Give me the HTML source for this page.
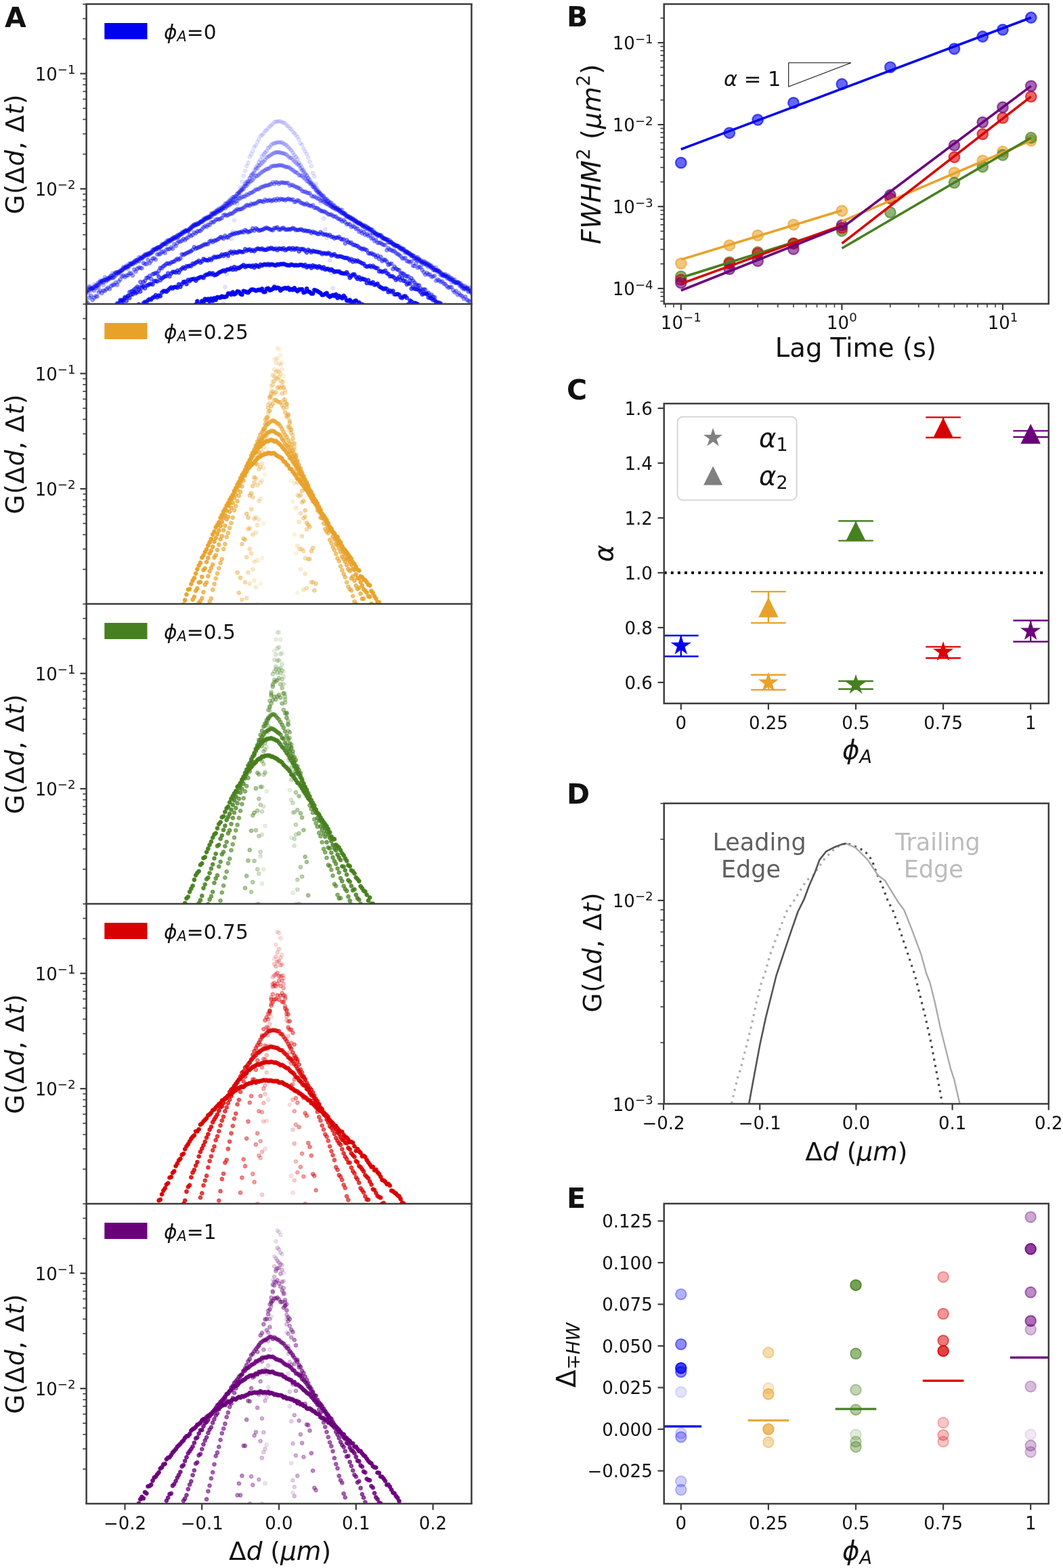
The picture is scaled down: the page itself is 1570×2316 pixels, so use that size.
<!DOCTYPE html>
<html><head><meta charset="utf-8"><title>Figure</title>
<style>html,body{margin:0;padding:0;background:#fff;} svg{display:block;} text{font-family:'DejaVu Sans', 'Liberation Sans', sans-serif;fill:#111;}</style>
</head><body>
<svg width="1570" height="2316" viewBox="0 0 1570 2316">
<rect width="1570" height="2316" fill="#fff"/>
<line x1="122.3" y1="397.9" x2="127.6" y2="397.9" stroke="#3c3c3c" stroke-width="1.6"/>
<line x1="122.3" y1="368" x2="127.6" y2="368" stroke="#3c3c3c" stroke-width="1.6"/>
<line x1="122.3" y1="346.7" x2="127.6" y2="346.7" stroke="#3c3c3c" stroke-width="1.6"/>
<line x1="122.3" y1="330.2" x2="127.6" y2="330.2" stroke="#3c3c3c" stroke-width="1.6"/>
<line x1="122.3" y1="316.7" x2="127.6" y2="316.7" stroke="#3c3c3c" stroke-width="1.6"/>
<line x1="122.3" y1="305.3" x2="127.6" y2="305.3" stroke="#3c3c3c" stroke-width="1.6"/>
<line x1="122.3" y1="295.4" x2="127.6" y2="295.4" stroke="#3c3c3c" stroke-width="1.6"/>
<line x1="122.3" y1="286.7" x2="127.6" y2="286.7" stroke="#3c3c3c" stroke-width="1.6"/>
<line x1="122.3" y1="227.7" x2="127.6" y2="227.7" stroke="#3c3c3c" stroke-width="1.6"/>
<line x1="122.3" y1="197.7" x2="127.6" y2="197.7" stroke="#3c3c3c" stroke-width="1.6"/>
<line x1="122.3" y1="176.4" x2="127.6" y2="176.4" stroke="#3c3c3c" stroke-width="1.6"/>
<line x1="122.3" y1="160" x2="127.6" y2="160" stroke="#3c3c3c" stroke-width="1.6"/>
<line x1="122.3" y1="146.5" x2="127.6" y2="146.5" stroke="#3c3c3c" stroke-width="1.6"/>
<line x1="122.3" y1="135.1" x2="127.6" y2="135.1" stroke="#3c3c3c" stroke-width="1.6"/>
<line x1="122.3" y1="125.2" x2="127.6" y2="125.2" stroke="#3c3c3c" stroke-width="1.6"/>
<line x1="122.3" y1="116.5" x2="127.6" y2="116.5" stroke="#3c3c3c" stroke-width="1.6"/>
<line x1="122.3" y1="57.4" x2="127.6" y2="57.4" stroke="#3c3c3c" stroke-width="1.6"/>
<line x1="122.3" y1="27.5" x2="127.6" y2="27.5" stroke="#3c3c3c" stroke-width="1.6"/>
<line x1="122.3" y1="6.2" x2="127.6" y2="6.2" stroke="#3c3c3c" stroke-width="1.6"/>
<line x1="118.4" y1="108.7" x2="127.6" y2="108.7" stroke="#3c3c3c" stroke-width="2.2"/>
<line x1="118.4" y1="278.9" x2="127.6" y2="278.9" stroke="#3c3c3c" stroke-width="2.2"/>
<text x="111.6" y="119" font-size="26" text-anchor="end">10<tspan font-size="18.2" dy="-9.9">−1</tspan></text>
<text x="111.6" y="289.2" font-size="26" text-anchor="end">10<tspan font-size="18.2" dy="-9.9">−2</tspan></text>
<rect x="154.3" y="34" width="63.2" height="24" fill="#0000f0"/>
<text x="242" y="58.1" font-size="29.7"><tspan font-style="oblique">ϕ</tspan><tspan font-style="oblique" font-size="20.8" dy="3.3">A</tspan><tspan dy="-3.3">=0</tspan></text>
<text transform="translate(35,227.5) rotate(-90)" x="0" y="0" font-size="37" letter-spacing="0.9" text-anchor="middle">G(Δ<tspan font-style="oblique">d</tspan>, Δ<tspan font-style="oblique">t</tspan>)</text>
<line x1="122.3" y1="840.9" x2="127.6" y2="840.9" stroke="#3c3c3c" stroke-width="1.6"/>
<line x1="122.3" y1="811" x2="127.6" y2="811" stroke="#3c3c3c" stroke-width="1.6"/>
<line x1="122.3" y1="789.7" x2="127.6" y2="789.7" stroke="#3c3c3c" stroke-width="1.6"/>
<line x1="122.3" y1="773.2" x2="127.6" y2="773.2" stroke="#3c3c3c" stroke-width="1.6"/>
<line x1="122.3" y1="759.7" x2="127.6" y2="759.7" stroke="#3c3c3c" stroke-width="1.6"/>
<line x1="122.3" y1="748.3" x2="127.6" y2="748.3" stroke="#3c3c3c" stroke-width="1.6"/>
<line x1="122.3" y1="738.4" x2="127.6" y2="738.4" stroke="#3c3c3c" stroke-width="1.6"/>
<line x1="122.3" y1="729.7" x2="127.6" y2="729.7" stroke="#3c3c3c" stroke-width="1.6"/>
<line x1="122.3" y1="670.7" x2="127.6" y2="670.7" stroke="#3c3c3c" stroke-width="1.6"/>
<line x1="122.3" y1="640.7" x2="127.6" y2="640.7" stroke="#3c3c3c" stroke-width="1.6"/>
<line x1="122.3" y1="619.4" x2="127.6" y2="619.4" stroke="#3c3c3c" stroke-width="1.6"/>
<line x1="122.3" y1="603" x2="127.6" y2="603" stroke="#3c3c3c" stroke-width="1.6"/>
<line x1="122.3" y1="589.5" x2="127.6" y2="589.5" stroke="#3c3c3c" stroke-width="1.6"/>
<line x1="122.3" y1="578.1" x2="127.6" y2="578.1" stroke="#3c3c3c" stroke-width="1.6"/>
<line x1="122.3" y1="568.2" x2="127.6" y2="568.2" stroke="#3c3c3c" stroke-width="1.6"/>
<line x1="122.3" y1="559.5" x2="127.6" y2="559.5" stroke="#3c3c3c" stroke-width="1.6"/>
<line x1="122.3" y1="500.4" x2="127.6" y2="500.4" stroke="#3c3c3c" stroke-width="1.6"/>
<line x1="122.3" y1="470.5" x2="127.6" y2="470.5" stroke="#3c3c3c" stroke-width="1.6"/>
<line x1="122.3" y1="449.2" x2="127.6" y2="449.2" stroke="#3c3c3c" stroke-width="1.6"/>
<line x1="118.4" y1="551.7" x2="127.6" y2="551.7" stroke="#3c3c3c" stroke-width="2.2"/>
<line x1="118.4" y1="722" x2="127.6" y2="722" stroke="#3c3c3c" stroke-width="2.2"/>
<text x="111.6" y="562" font-size="26" text-anchor="end">10<tspan font-size="18.2" dy="-9.9">−1</tspan></text>
<text x="111.6" y="732.2" font-size="26" text-anchor="end">10<tspan font-size="18.2" dy="-9.9">−2</tspan></text>
<rect x="154.3" y="477" width="63.2" height="24" fill="#e8a22a"/>
<text x="242" y="501.1" font-size="29.7"><tspan font-style="oblique">ϕ</tspan><tspan font-style="oblique" font-size="20.8" dy="3.3">A</tspan><tspan dy="-3.3">=0.25</tspan></text>
<text transform="translate(35,670.5) rotate(-90)" x="0" y="0" font-size="37" letter-spacing="0.9" text-anchor="middle">G(Δ<tspan font-style="oblique">d</tspan>, Δ<tspan font-style="oblique">t</tspan>)</text>
<line x1="122.3" y1="1283.9" x2="127.6" y2="1283.9" stroke="#3c3c3c" stroke-width="1.6"/>
<line x1="122.3" y1="1254" x2="127.6" y2="1254" stroke="#3c3c3c" stroke-width="1.6"/>
<line x1="122.3" y1="1232.7" x2="127.6" y2="1232.7" stroke="#3c3c3c" stroke-width="1.6"/>
<line x1="122.3" y1="1216.2" x2="127.6" y2="1216.2" stroke="#3c3c3c" stroke-width="1.6"/>
<line x1="122.3" y1="1202.7" x2="127.6" y2="1202.7" stroke="#3c3c3c" stroke-width="1.6"/>
<line x1="122.3" y1="1191.3" x2="127.6" y2="1191.3" stroke="#3c3c3c" stroke-width="1.6"/>
<line x1="122.3" y1="1181.4" x2="127.6" y2="1181.4" stroke="#3c3c3c" stroke-width="1.6"/>
<line x1="122.3" y1="1172.7" x2="127.6" y2="1172.7" stroke="#3c3c3c" stroke-width="1.6"/>
<line x1="122.3" y1="1113.7" x2="127.6" y2="1113.7" stroke="#3c3c3c" stroke-width="1.6"/>
<line x1="122.3" y1="1083.7" x2="127.6" y2="1083.7" stroke="#3c3c3c" stroke-width="1.6"/>
<line x1="122.3" y1="1062.4" x2="127.6" y2="1062.4" stroke="#3c3c3c" stroke-width="1.6"/>
<line x1="122.3" y1="1046" x2="127.6" y2="1046" stroke="#3c3c3c" stroke-width="1.6"/>
<line x1="122.3" y1="1032.5" x2="127.6" y2="1032.5" stroke="#3c3c3c" stroke-width="1.6"/>
<line x1="122.3" y1="1021.1" x2="127.6" y2="1021.1" stroke="#3c3c3c" stroke-width="1.6"/>
<line x1="122.3" y1="1011.2" x2="127.6" y2="1011.2" stroke="#3c3c3c" stroke-width="1.6"/>
<line x1="122.3" y1="1002.5" x2="127.6" y2="1002.5" stroke="#3c3c3c" stroke-width="1.6"/>
<line x1="122.3" y1="943.4" x2="127.6" y2="943.4" stroke="#3c3c3c" stroke-width="1.6"/>
<line x1="122.3" y1="913.5" x2="127.6" y2="913.5" stroke="#3c3c3c" stroke-width="1.6"/>
<line x1="122.3" y1="892.2" x2="127.6" y2="892.2" stroke="#3c3c3c" stroke-width="1.6"/>
<line x1="118.4" y1="994.7" x2="127.6" y2="994.7" stroke="#3c3c3c" stroke-width="2.2"/>
<line x1="118.4" y1="1165" x2="127.6" y2="1165" stroke="#3c3c3c" stroke-width="2.2"/>
<text x="111.6" y="1005" font-size="26" text-anchor="end">10<tspan font-size="18.2" dy="-9.9">−1</tspan></text>
<text x="111.6" y="1175.2" font-size="26" text-anchor="end">10<tspan font-size="18.2" dy="-9.9">−2</tspan></text>
<rect x="154.3" y="920" width="63.2" height="24" fill="#47801f"/>
<text x="242" y="944.1" font-size="29.7"><tspan font-style="oblique">ϕ</tspan><tspan font-style="oblique" font-size="20.8" dy="3.3">A</tspan><tspan dy="-3.3">=0.5</tspan></text>
<text transform="translate(35,1113.5) rotate(-90)" x="0" y="0" font-size="37" letter-spacing="0.9" text-anchor="middle">G(Δ<tspan font-style="oblique">d</tspan>, Δ<tspan font-style="oblique">t</tspan>)</text>
<line x1="122.3" y1="1726.9" x2="127.6" y2="1726.9" stroke="#3c3c3c" stroke-width="1.6"/>
<line x1="122.3" y1="1697" x2="127.6" y2="1697" stroke="#3c3c3c" stroke-width="1.6"/>
<line x1="122.3" y1="1675.7" x2="127.6" y2="1675.7" stroke="#3c3c3c" stroke-width="1.6"/>
<line x1="122.3" y1="1659.2" x2="127.6" y2="1659.2" stroke="#3c3c3c" stroke-width="1.6"/>
<line x1="122.3" y1="1645.7" x2="127.6" y2="1645.7" stroke="#3c3c3c" stroke-width="1.6"/>
<line x1="122.3" y1="1634.3" x2="127.6" y2="1634.3" stroke="#3c3c3c" stroke-width="1.6"/>
<line x1="122.3" y1="1624.4" x2="127.6" y2="1624.4" stroke="#3c3c3c" stroke-width="1.6"/>
<line x1="122.3" y1="1615.7" x2="127.6" y2="1615.7" stroke="#3c3c3c" stroke-width="1.6"/>
<line x1="122.3" y1="1556.7" x2="127.6" y2="1556.7" stroke="#3c3c3c" stroke-width="1.6"/>
<line x1="122.3" y1="1526.7" x2="127.6" y2="1526.7" stroke="#3c3c3c" stroke-width="1.6"/>
<line x1="122.3" y1="1505.4" x2="127.6" y2="1505.4" stroke="#3c3c3c" stroke-width="1.6"/>
<line x1="122.3" y1="1489" x2="127.6" y2="1489" stroke="#3c3c3c" stroke-width="1.6"/>
<line x1="122.3" y1="1475.5" x2="127.6" y2="1475.5" stroke="#3c3c3c" stroke-width="1.6"/>
<line x1="122.3" y1="1464.1" x2="127.6" y2="1464.1" stroke="#3c3c3c" stroke-width="1.6"/>
<line x1="122.3" y1="1454.2" x2="127.6" y2="1454.2" stroke="#3c3c3c" stroke-width="1.6"/>
<line x1="122.3" y1="1445.5" x2="127.6" y2="1445.5" stroke="#3c3c3c" stroke-width="1.6"/>
<line x1="122.3" y1="1386.4" x2="127.6" y2="1386.4" stroke="#3c3c3c" stroke-width="1.6"/>
<line x1="122.3" y1="1356.5" x2="127.6" y2="1356.5" stroke="#3c3c3c" stroke-width="1.6"/>
<line x1="122.3" y1="1335.2" x2="127.6" y2="1335.2" stroke="#3c3c3c" stroke-width="1.6"/>
<line x1="118.4" y1="1437.7" x2="127.6" y2="1437.7" stroke="#3c3c3c" stroke-width="2.2"/>
<line x1="118.4" y1="1608" x2="127.6" y2="1608" stroke="#3c3c3c" stroke-width="2.2"/>
<text x="111.6" y="1448" font-size="26" text-anchor="end">10<tspan font-size="18.2" dy="-9.9">−1</tspan></text>
<text x="111.6" y="1618.2" font-size="26" text-anchor="end">10<tspan font-size="18.2" dy="-9.9">−2</tspan></text>
<rect x="154.3" y="1363" width="63.2" height="24" fill="#d90000"/>
<text x="242" y="1387.1" font-size="29.7"><tspan font-style="oblique">ϕ</tspan><tspan font-style="oblique" font-size="20.8" dy="3.3">A</tspan><tspan dy="-3.3">=0.75</tspan></text>
<text transform="translate(35,1556.5) rotate(-90)" x="0" y="0" font-size="37" letter-spacing="0.9" text-anchor="middle">G(Δ<tspan font-style="oblique">d</tspan>, Δ<tspan font-style="oblique">t</tspan>)</text>
<line x1="122.3" y1="2169.9" x2="127.6" y2="2169.9" stroke="#3c3c3c" stroke-width="1.6"/>
<line x1="122.3" y1="2140" x2="127.6" y2="2140" stroke="#3c3c3c" stroke-width="1.6"/>
<line x1="122.3" y1="2118.7" x2="127.6" y2="2118.7" stroke="#3c3c3c" stroke-width="1.6"/>
<line x1="122.3" y1="2102.2" x2="127.6" y2="2102.2" stroke="#3c3c3c" stroke-width="1.6"/>
<line x1="122.3" y1="2088.7" x2="127.6" y2="2088.7" stroke="#3c3c3c" stroke-width="1.6"/>
<line x1="122.3" y1="2077.3" x2="127.6" y2="2077.3" stroke="#3c3c3c" stroke-width="1.6"/>
<line x1="122.3" y1="2067.4" x2="127.6" y2="2067.4" stroke="#3c3c3c" stroke-width="1.6"/>
<line x1="122.3" y1="2058.7" x2="127.6" y2="2058.7" stroke="#3c3c3c" stroke-width="1.6"/>
<line x1="122.3" y1="1999.7" x2="127.6" y2="1999.7" stroke="#3c3c3c" stroke-width="1.6"/>
<line x1="122.3" y1="1969.7" x2="127.6" y2="1969.7" stroke="#3c3c3c" stroke-width="1.6"/>
<line x1="122.3" y1="1948.4" x2="127.6" y2="1948.4" stroke="#3c3c3c" stroke-width="1.6"/>
<line x1="122.3" y1="1932" x2="127.6" y2="1932" stroke="#3c3c3c" stroke-width="1.6"/>
<line x1="122.3" y1="1918.5" x2="127.6" y2="1918.5" stroke="#3c3c3c" stroke-width="1.6"/>
<line x1="122.3" y1="1907.1" x2="127.6" y2="1907.1" stroke="#3c3c3c" stroke-width="1.6"/>
<line x1="122.3" y1="1897.2" x2="127.6" y2="1897.2" stroke="#3c3c3c" stroke-width="1.6"/>
<line x1="122.3" y1="1888.5" x2="127.6" y2="1888.5" stroke="#3c3c3c" stroke-width="1.6"/>
<line x1="122.3" y1="1829.4" x2="127.6" y2="1829.4" stroke="#3c3c3c" stroke-width="1.6"/>
<line x1="122.3" y1="1799.5" x2="127.6" y2="1799.5" stroke="#3c3c3c" stroke-width="1.6"/>
<line x1="122.3" y1="1778.2" x2="127.6" y2="1778.2" stroke="#3c3c3c" stroke-width="1.6"/>
<line x1="118.4" y1="1880.7" x2="127.6" y2="1880.7" stroke="#3c3c3c" stroke-width="2.2"/>
<line x1="118.4" y1="2050.9" x2="127.6" y2="2050.9" stroke="#3c3c3c" stroke-width="2.2"/>
<text x="111.6" y="1891" font-size="26" text-anchor="end">10<tspan font-size="18.2" dy="-9.9">−1</tspan></text>
<text x="111.6" y="2061.2" font-size="26" text-anchor="end">10<tspan font-size="18.2" dy="-9.9">−2</tspan></text>
<line x1="184.5" y1="2221" x2="184.5" y2="2230.2" stroke="#3c3c3c" stroke-width="2.2"/>
<line x1="298.2" y1="2221" x2="298.2" y2="2230.2" stroke="#3c3c3c" stroke-width="2.2"/>
<line x1="412" y1="2221" x2="412" y2="2230.2" stroke="#3c3c3c" stroke-width="2.2"/>
<line x1="525.8" y1="2221" x2="525.8" y2="2230.2" stroke="#3c3c3c" stroke-width="2.2"/>
<line x1="639.5" y1="2221" x2="639.5" y2="2230.2" stroke="#3c3c3c" stroke-width="2.2"/>
<rect x="154.3" y="1806" width="63.2" height="24" fill="#6b007b"/>
<text x="242" y="1830.1" font-size="29.7"><tspan font-style="oblique">ϕ</tspan><tspan font-style="oblique" font-size="20.8" dy="3.3">A</tspan><tspan dy="-3.3">=1</tspan></text>
<text transform="translate(35,1999.5) rotate(-90)" x="0" y="0" font-size="37" letter-spacing="0.9" text-anchor="middle">G(Δ<tspan font-style="oblique">d</tspan>, Δ<tspan font-style="oblique">t</tspan>)</text>
<text x="184.5" y="2258.6" font-size="26" text-anchor="middle">−0.2</text>
<text x="298.2" y="2258.6" font-size="26" text-anchor="middle">−0.1</text>
<text x="412" y="2258.6" font-size="26" text-anchor="middle">0.0</text>
<text x="525.8" y="2258.6" font-size="26" text-anchor="middle">0.1</text>
<text x="639.5" y="2258.6" font-size="26" text-anchor="middle">0.2</text>
<text x="413.5" y="2303.5" font-size="37.5" text-anchor="middle">Δ<tspan font-style="oblique">d</tspan> (<tspan font-style="oblique">μm</tspan>)</text>
<defs><filter id="soft" x="-2%" y="-2%" width="104%" height="104%"><feGaussianBlur stdDeviation="0.55"/></filter></defs>
<clipPath id="cA0"><rect x="127.6" y="6.0" width="568.8" height="443"/></clipPath>
<defs><marker id="m0_0" markerUnits="userSpaceOnUse" markerWidth="8" markerHeight="8" refX="4" refY="4" overflow="visible"><circle cx="4" cy="4" r="2.75" fill="#0000f0" fill-opacity="0.100" stroke="#0000f0" stroke-opacity="0.085" stroke-width="1.3"/></marker><marker id="m0_1" markerUnits="userSpaceOnUse" markerWidth="8" markerHeight="8" refX="4" refY="4" overflow="visible"><circle cx="4" cy="4" r="2.75" fill="#0000f0" fill-opacity="0.150" stroke="#0000f0" stroke-opacity="0.128" stroke-width="1.3"/></marker><marker id="m0_2" markerUnits="userSpaceOnUse" markerWidth="8" markerHeight="8" refX="4" refY="4" overflow="visible"><circle cx="4" cy="4" r="2.75" fill="#0000f0" fill-opacity="0.200" stroke="#0000f0" stroke-opacity="0.170" stroke-width="1.3"/></marker><marker id="m0_3" markerUnits="userSpaceOnUse" markerWidth="8" markerHeight="8" refX="4" refY="4" overflow="visible"><circle cx="4" cy="4" r="2.75" fill="#0000f0" fill-opacity="0.250" stroke="#0000f0" stroke-opacity="0.212" stroke-width="1.3"/></marker><marker id="m0_4" markerUnits="userSpaceOnUse" markerWidth="8" markerHeight="8" refX="4" refY="4" overflow="visible"><circle cx="4" cy="4" r="2.75" fill="#0000f0" fill-opacity="0.300" stroke="#0000f0" stroke-opacity="0.255" stroke-width="1.3"/></marker><marker id="m0_5" markerUnits="userSpaceOnUse" markerWidth="8" markerHeight="8" refX="4" refY="4" overflow="visible"><circle cx="4" cy="4" r="2.75" fill="#0000f0" fill-opacity="0.360" stroke="#0000f0" stroke-opacity="0.306" stroke-width="1.3"/></marker><marker id="m0_6" markerUnits="userSpaceOnUse" markerWidth="8" markerHeight="8" refX="4" refY="4" overflow="visible"><circle cx="4" cy="4" r="2.75" fill="#0000f0" fill-opacity="0.450" stroke="#0000f0" stroke-opacity="0.383" stroke-width="1.3"/></marker><marker id="m0_7" markerUnits="userSpaceOnUse" markerWidth="8" markerHeight="8" refX="4" refY="4" overflow="visible"><circle cx="4" cy="4" r="2.75" fill="#0000f0" fill-opacity="0.580" stroke="#0000f0" stroke-opacity="0.493" stroke-width="1.3"/></marker><marker id="m0_8" markerUnits="userSpaceOnUse" markerWidth="8" markerHeight="8" refX="4" refY="4" overflow="visible"><circle cx="4" cy="4" r="2.75" fill="#0000f0" fill-opacity="0.720" stroke="#0000f0" stroke-opacity="0.612" stroke-width="1.3"/></marker><marker id="m0_9" markerUnits="userSpaceOnUse" markerWidth="8" markerHeight="8" refX="4" refY="4" overflow="visible"><circle cx="4" cy="4" r="2.75" fill="#0000f0" fill-opacity="0.900" stroke="#0000f0" stroke-opacity="0.765" stroke-width="1.3"/></marker></defs>
<g clip-path="url(#cA0)"><g filter="url(#soft)">
<polyline points="330.1,448.7 332.4,423.8 334.7,404.8 336.9,380.3 339.2,370.6 341.5,352.9 343.8,342.1 346.0,325.4 348.3,309.6 350.6,301.4 352.9,287.6 355.1,276.7 357.4,268.4 359.7,259.7 362.0,252.4 364.2,245.2 366.5,240.5 368.8,231.7 371.1,227.7 373.3,223.2 375.6,217.1 377.9,215.1 380.2,210.0 382.4,205.7 384.7,200.7 387.0,199.5 389.3,197.1 391.5,193.2 393.8,192.2 396.1,189.4 398.4,186.8 400.6,185.1 402.9,183.3 405.2,180.2 407.5,179.8 409.7,179.6 412.0,179.2 414.3,178.9 416.6,180.7 418.8,181.4 421.1,181.7 423.4,185.4 425.7,186.3 427.9,189.7 430.2,190.8 432.5,194.7 434.8,196.7 437.0,199.3 439.3,202.4 441.6,206.1 443.9,211.4 446.1,213.8 448.4,219.3 450.7,223.7 453.0,227.4 455.2,232.7 457.5,239.0 459.8,245.4 462.1,255.6 464.3,260.6 466.6,271.7 468.9,278.0 471.2,287.0 473.4,299.9 475.7,312.7 478.0,322.8 480.3,338.9 482.5,351.6 484.8,372.4 487.1,384.6 489.4,403.7 491.6,425.4" fill="none" stroke="none" marker-start="url(#m0_0)" marker-mid="url(#m0_0)" marker-end="url(#m0_0)"/>
<polyline points="127.6,430.6 129.9,428.2 132.2,424.8 134.4,426.5 136.7,424.4 139.0,420.2 141.3,423.1 143.6,418.5 145.8,419.2 148.1,416.3 150.4,416.9 152.7,415.7 154.9,413.1 157.2,410.8 159.5,413.5 161.8,411.1 164.0,409.9 166.3,406.8 168.6,406.6 170.9,406.8 173.1,401.7 175.4,401.5 177.7,398.5 180.0,398.9 182.2,395.9 184.5,394.7 186.8,394.4 189.1,397.5 191.3,390.5 193.6,389.0 195.9,390.2 198.2,388.5 200.4,388.1 202.7,385.3 205.0,383.0 207.3,381.2 209.5,378.7 211.8,378.7 214.1,377.9 216.4,376.4 218.6,376.3 220.9,373.8 223.2,372.7 225.5,372.5 227.7,368.3 230.0,367.0 232.3,366.4 234.6,366.3 236.8,364.4 239.1,360.5 241.4,360.4 243.7,359.8 245.9,358.4 248.2,356.3 250.5,355.0 252.8,355.5 255.0,353.2 257.3,352.5 259.6,350.2 261.9,350.8 264.1,348.6 266.4,345.6 268.7,343.3 271.0,342.2 273.2,342.5 275.5,341.9 277.8,340.4 280.1,338.5 282.3,338.9 284.6,334.2 286.9,331.7 289.2,331.9 291.4,330.8 293.7,329.6 296.0,327.3 298.3,326.5 300.5,326.6 302.8,324.9 305.1,322.0 307.4,322.4 309.6,320.3 311.9,318.8 314.2,317.8 316.5,316.6 318.7,315.8 321.0,312.7 323.3,312.9 325.6,310.5 327.8,308.7 330.1,306.5 332.4,304.5 334.7,304.7 336.9,301.8 339.2,299.9 341.5,299.3 343.8,295.4 346.0,294.6 348.3,292.9 350.6,290.8 352.9,287.4 355.1,284.5 357.4,280.4 359.7,277.9 362.0,273.6 364.2,270.8 366.5,267.7 368.8,263.0 371.1,259.8 373.3,256.1 375.6,251.7 377.9,247.4 380.2,244.1 382.4,239.4 384.7,236.2 387.0,231.1 389.3,228.1 391.5,225.5 393.8,223.2 396.1,218.8 398.4,217.0 400.6,214.1 402.9,212.3 405.2,211.4 407.5,211.3 409.7,209.9 412.0,210.3 414.3,210.3 416.6,210.4 418.8,212.1 421.1,213.2 423.4,214.8 425.7,217.2 427.9,219.6 430.2,222.1 432.5,225.4 434.8,228.9 437.0,231.9 439.3,235.0 441.6,240.3 443.9,244.0 446.1,248.0 448.4,251.3 450.7,255.7 453.0,259.1 455.2,263.4 457.5,268.5 459.8,270.6 462.1,275.4 464.3,278.3 466.6,281.0 468.9,284.2 471.2,286.1 473.4,289.4 475.7,292.2 478.0,295.2 480.3,296.9 482.5,299.2 484.8,300.1 487.1,301.5 489.4,303.9 491.6,306.7 493.9,307.5 496.2,307.5 498.5,307.8 500.7,312.2 503.0,314.2 505.3,313.8 507.6,315.2 509.8,316.4 512.1,320.4 514.4,321.1 516.7,320.7 518.9,323.9 521.2,324.0 523.5,328.2 525.8,326.8 528.0,329.1 530.3,329.6 532.6,330.4 534.9,332.8 537.1,332.5 539.4,335.4 541.7,336.3 544.0,337.3 546.2,339.7 548.5,338.2 550.8,342.0 553.1,343.6 555.3,345.1 557.6,345.7 559.9,347.6 562.2,347.2 564.4,349.2 566.7,352.0 569.0,353.0 571.3,353.5 573.5,354.2 575.8,357.8 578.1,358.4 580.4,361.0 582.6,364.6 584.9,363.0 587.2,364.1 589.5,365.3 591.7,367.1 594.0,368.8 596.3,369.9 598.6,370.7 600.8,373.2 603.1,373.0 605.4,375.1 607.7,377.8 609.9,377.4 612.2,382.0 614.5,380.9 616.8,384.7 619.0,383.8 621.3,383.8 623.6,386.8 625.9,389.9 628.1,389.8 630.4,392.0 632.7,392.6 635.0,391.9 637.2,392.0 639.5,396.5 641.8,399.3 644.1,398.7 646.3,401.7 648.6,401.4 650.9,402.4 653.2,404.3 655.4,405.2 657.7,406.7 660.0,410.0 662.3,409.8 664.5,412.5 666.8,411.1 669.1,414.3 671.4,414.9 673.6,416.9 675.9,416.1 678.2,418.7 680.5,421.8 682.7,424.3 685.0,425.6 687.3,422.3 689.6,424.4 691.8,431.2 694.1,429.8 696.4,429.4" fill="none" stroke="none" marker-start="url(#m0_1)" marker-mid="url(#m0_1)" marker-end="url(#m0_1)"/>
<polyline points="127.6,430.5 129.9,428.9 132.2,428.2 134.4,426.4 136.7,426.7 139.0,424.0 141.3,421.7 143.6,425.0 145.8,423.8 148.1,414.3 150.4,415.6 152.7,421.0 154.9,413.1 157.2,413.2 159.5,411.1 161.8,408.9 164.0,407.3 166.3,403.5 168.6,405.1 170.9,406.9 173.1,404.1 175.4,403.0 177.7,400.5 180.0,399.0 182.2,396.7 184.5,395.0 186.8,391.8 189.1,392.9 191.3,393.1 193.6,389.4 195.9,390.0 198.2,386.0 200.4,384.8 202.7,384.4 205.0,385.9 207.3,380.6 209.5,380.5 211.8,379.6 214.1,377.6 216.4,376.2 218.6,375.5 220.9,376.0 223.2,371.7 225.5,370.7 227.7,368.2 230.0,368.2 232.3,365.7 234.6,365.2 236.8,364.4 239.1,363.1 241.4,360.8 243.7,360.5 245.9,358.4 248.2,357.6 250.5,355.7 252.8,353.2 255.0,353.7 257.3,350.9 259.6,351.9 261.9,347.3 264.1,346.7 266.4,345.9 268.7,345.1 271.0,343.1 273.2,341.7 275.5,340.2 277.8,340.2 280.1,338.1 282.3,337.0 284.6,334.8 286.9,334.3 289.2,332.6 291.4,331.7 293.7,330.2 296.0,327.8 298.3,327.3 300.5,323.3 302.8,324.0 305.1,322.4 307.4,320.9 309.6,319.8 311.9,318.1 314.2,315.9 316.5,316.4 318.7,313.1 321.0,311.3 323.3,310.3 325.6,309.7 327.8,307.5 330.1,306.5 332.4,303.4 334.7,301.0 336.9,299.8 339.2,297.5 341.5,296.5 343.8,294.6 346.0,291.7 348.3,289.8 350.6,286.3 352.9,283.8 355.1,282.0 357.4,278.7 359.7,275.5 362.0,271.3 364.2,268.5 366.5,268.2 368.8,263.1 371.1,258.9 373.3,257.4 375.6,255.2 377.9,249.8 380.2,248.4 382.4,245.0 384.7,243.4 387.0,240.7 389.3,238.6 391.5,236.0 393.8,232.7 396.1,231.3 398.4,230.2 400.6,228.2 402.9,227.2 405.2,225.4 407.5,225.3 409.7,224.8 412.0,225.0 414.3,225.5 416.6,226.3 418.8,226.4 421.1,227.6 423.4,228.6 425.7,231.1 427.9,232.9 430.2,233.3 432.5,235.9 434.8,238.3 437.0,240.3 439.3,242.6 441.6,244.4 443.9,248.8 446.1,251.6 448.4,253.8 450.7,257.4 453.0,259.8 455.2,263.0 457.5,265.4 459.8,269.6 462.1,272.5 464.3,274.5 466.6,277.8 468.9,280.9 471.2,284.3 473.4,285.6 475.7,289.2 478.0,291.2 480.3,293.9 482.5,296.1 484.8,297.0 487.1,299.0 489.4,303.7 491.6,303.6 493.9,304.9 496.2,307.6 498.5,308.0 500.7,310.3 503.0,311.6 505.3,314.0 507.6,315.2 509.8,314.8 512.1,319.3 514.4,319.6 516.7,320.4 518.9,322.2 521.2,324.3 523.5,326.8 525.8,326.5 528.0,327.9 530.3,330.8 532.6,330.9 534.9,333.7 537.1,334.3 539.4,338.6 541.7,337.9 544.0,336.8 546.2,341.0 548.5,340.9 550.8,339.7 553.1,342.9 555.3,345.5 557.6,347.9 559.9,348.5 562.2,349.2 564.4,351.5 566.7,353.0 569.0,352.5 571.3,354.8 573.5,354.3 575.8,357.1 578.1,359.0 580.4,359.9 582.6,361.2 584.9,362.8 587.2,363.5 589.5,363.3 591.7,367.1 594.0,367.3 596.3,368.5 598.6,371.0 600.8,372.7 603.1,374.6 605.4,375.2 607.7,378.6 609.9,378.5 612.2,382.2 614.5,383.6 616.8,384.5 619.0,385.1 621.3,384.8 623.6,386.3 625.9,387.5 628.1,389.6 630.4,392.1 632.7,394.7 635.0,393.5 637.2,392.8 639.5,395.4 641.8,395.8 644.1,394.8 646.3,398.9 648.6,400.2 650.9,404.9 653.2,404.3 655.4,406.9 657.7,407.6 660.0,411.1 662.3,408.8 664.5,412.8 666.8,417.1 669.1,415.4 671.4,417.7 673.6,417.3 675.9,417.1 678.2,421.7 680.5,418.3 682.7,425.8 685.0,421.9 687.3,426.0 689.6,425.7 691.8,429.4 694.1,428.6 696.4,430.6" fill="none" stroke="none" marker-start="url(#m0_2)" marker-mid="url(#m0_2)" marker-end="url(#m0_2)"/>
<polyline points="127.6,430.8 129.9,427.4 132.2,422.8 134.4,429.2 136.7,425.8 139.0,424.2 141.3,422.0 143.6,422.4 145.8,417.2 148.1,416.8 150.4,415.1 152.7,417.5 154.9,409.6 157.2,415.8 159.5,412.0 161.8,410.1 164.0,407.3 166.3,409.9 168.6,405.0 170.9,403.0 173.1,404.2 175.4,403.8 177.7,400.6 180.0,399.9 182.2,398.2 184.5,396.3 186.8,393.3 189.1,393.7 191.3,389.1 193.6,389.2 195.9,387.9 198.2,387.4 200.4,384.2 202.7,384.3 205.0,380.0 207.3,381.9 209.5,381.9 211.8,380.0 214.1,376.7 216.4,377.6 218.6,376.8 220.9,374.4 223.2,374.2 225.5,372.3 227.7,369.3 230.0,367.5 232.3,366.3 234.6,365.1 236.8,364.2 239.1,363.0 241.4,361.1 243.7,358.6 245.9,356.2 248.2,354.5 250.5,356.9 252.8,355.1 255.0,352.6 257.3,352.4 259.6,350.9 261.9,348.1 264.1,346.9 266.4,346.7 268.7,343.4 271.0,344.5 273.2,342.3 275.5,340.4 277.8,341.2 280.1,337.4 282.3,336.7 284.6,333.1 286.9,331.5 289.2,331.5 291.4,329.3 293.7,330.4 296.0,328.2 298.3,326.6 300.5,325.1 302.8,323.1 305.1,321.2 307.4,319.9 309.6,319.8 311.9,320.5 314.2,314.7 316.5,313.7 318.7,311.7 321.0,310.1 323.3,308.2 325.6,307.8 327.8,305.9 330.1,304.3 332.4,300.7 334.7,300.6 336.9,298.2 339.2,295.8 341.5,293.7 343.8,291.5 346.0,290.4 348.3,289.9 350.6,286.1 352.9,284.6 355.1,281.7 357.4,280.8 359.7,279.2 362.0,275.0 364.2,274.3 366.5,271.5 368.8,268.7 371.1,267.4 373.3,265.6 375.6,262.6 377.9,260.2 380.2,259.7 382.4,257.8 384.7,255.9 387.0,254.1 389.3,252.4 391.5,251.3 393.8,249.5 396.1,249.4 398.4,248.0 400.6,245.9 402.9,245.1 405.2,245.2 407.5,244.7 409.7,244.8 412.0,244.1 414.3,244.1 416.6,244.4 418.8,245.1 421.1,246.3 423.4,246.6 425.7,246.9 427.9,248.1 430.2,250.1 432.5,251.0 434.8,253.3 437.0,254.5 439.3,255.6 441.6,258.8 443.9,259.1 446.1,259.7 448.4,262.4 450.7,264.1 453.0,267.3 455.2,268.3 457.5,270.9 459.8,272.4 462.1,275.8 464.3,276.6 466.6,280.7 468.9,283.1 471.2,283.3 473.4,286.7 475.7,288.3 478.0,289.5 480.3,293.2 482.5,294.1 484.8,297.1 487.1,299.6 489.4,299.5 491.6,302.2 493.9,303.7 496.2,306.7 498.5,307.3 500.7,309.8 503.0,309.8 505.3,310.0 507.6,315.5 509.8,316.7 512.1,317.8 514.4,319.3 516.7,321.7 518.9,321.3 521.2,323.6 523.5,325.5 525.8,327.3 528.0,328.9 530.3,330.4 532.6,330.6 534.9,332.9 537.1,333.0 539.4,333.3 541.7,337.2 544.0,337.5 546.2,338.5 548.5,339.5 550.8,345.0 553.1,344.3 555.3,345.4 557.6,348.3 559.9,347.1 562.2,348.2 564.4,349.6 566.7,351.4 569.0,353.2 571.3,354.0 573.5,357.1 575.8,354.9 578.1,358.0 580.4,360.1 582.6,360.6 584.9,362.1 587.2,363.5 589.5,365.8 591.7,368.1 594.0,368.8 596.3,369.7 598.6,373.4 600.8,371.6 603.1,374.1 605.4,376.2 607.7,376.3 609.9,378.6 612.2,378.4 614.5,380.3 616.8,382.0 619.0,382.7 621.3,387.6 623.6,388.4 625.9,385.4 628.1,386.9 630.4,390.5 632.7,389.5 635.0,391.5 637.2,394.9 639.5,398.5 641.8,398.6 644.1,399.0 646.3,399.2 648.6,401.9 650.9,406.4 653.2,407.0 655.4,406.3 657.7,407.4 660.0,408.7 662.3,407.0 664.5,409.7 666.8,410.9 669.1,415.3 671.4,412.8 673.6,418.1 675.9,417.4 678.2,419.6 680.5,420.0 682.7,422.7 685.0,425.2 687.3,424.3 689.6,425.1 691.8,430.8 694.1,429.8 696.4,432.5" fill="none" stroke="none" marker-start="url(#m0_3)" marker-mid="url(#m0_3)" marker-end="url(#m0_3)"/>
<polyline points="127.6,430.7 129.9,432.4 132.2,425.0 134.4,426.3 136.7,425.6 139.0,429.3 141.3,425.8 143.6,421.0 145.8,420.8 148.1,418.4 150.4,415.0 152.7,413.8 154.9,413.7 157.2,413.9 159.5,411.6 161.8,412.1 164.0,409.6 166.3,410.7 168.6,409.7 170.9,402.4 173.1,402.4 175.4,401.4 177.7,402.1 180.0,398.7 182.2,394.7 184.5,396.1 186.8,395.2 189.1,394.0 191.3,391.9 193.6,390.4 195.9,390.0 198.2,386.9 200.4,387.6 202.7,383.9 205.0,385.7 207.3,382.1 209.5,381.6 211.8,378.8 214.1,375.7 216.4,375.7 218.6,374.1 220.9,374.4 223.2,372.8 225.5,368.8 227.7,368.7 230.0,368.9 232.3,366.0 234.6,368.5 236.8,365.7 239.1,361.8 241.4,360.8 243.7,359.8 245.9,360.9 248.2,356.5 250.5,355.0 252.8,353.8 255.0,351.4 257.3,350.3 259.6,349.7 261.9,350.6 264.1,349.4 266.4,346.1 268.7,345.6 271.0,342.4 273.2,340.7 275.5,339.9 277.8,341.3 280.1,338.8 282.3,335.3 284.6,334.4 286.9,332.7 289.2,331.8 291.4,331.3 293.7,330.3 296.0,327.5 298.3,327.9 300.5,325.0 302.8,322.4 305.1,323.1 307.4,322.2 309.6,321.2 311.9,315.7 314.2,316.4 316.5,315.2 318.7,314.6 321.0,313.1 323.3,311.7 325.6,311.3 327.8,309.5 330.1,307.1 332.4,307.6 334.7,305.2 336.9,303.5 339.2,302.5 341.5,301.1 343.8,298.6 346.0,299.8 348.3,297.6 350.6,296.5 352.9,293.1 355.1,292.9 357.4,291.2 359.7,290.3 362.0,290.1 364.2,287.3 366.5,287.8 368.8,285.3 371.1,284.9 373.3,283.6 375.6,282.2 377.9,279.8 380.2,279.8 382.4,279.2 384.7,277.0 387.0,276.0 389.3,275.6 391.5,274.3 393.8,273.9 396.1,273.7 398.4,272.5 400.6,271.8 402.9,269.3 405.2,271.8 407.5,269.1 409.7,269.6 412.0,271.7 414.3,269.8 416.6,269.3 418.8,270.0 421.1,270.4 423.4,270.1 425.7,270.5 427.9,274.3 430.2,273.2 432.5,273.4 434.8,275.2 437.0,275.9 439.3,277.0 441.6,278.0 443.9,279.2 446.1,282.1 448.4,283.2 450.7,283.0 453.0,284.7 455.2,285.1 457.5,285.5 459.8,288.8 462.1,290.6 464.3,290.1 466.6,291.7 468.9,293.2 471.2,293.7 473.4,296.4 475.7,296.2 478.0,297.9 480.3,299.8 482.5,301.3 484.8,302.1 487.1,303.9 489.4,305.4 491.6,306.7 493.9,307.6 496.2,309.7 498.5,309.7 500.7,311.0 503.0,312.4 505.3,315.2 507.6,314.5 509.8,317.9 512.1,319.5 514.4,320.4 516.7,322.1 518.9,323.4 521.2,323.4 523.5,324.4 525.8,326.3 528.0,329.0 530.3,328.6 532.6,330.5 534.9,332.3 537.1,334.9 539.4,334.7 541.7,334.8 544.0,336.5 546.2,338.6 548.5,339.7 550.8,343.6 553.1,343.1 555.3,346.0 557.6,346.0 559.9,347.6 562.2,347.2 564.4,351.1 566.7,352.0 569.0,353.2 571.3,354.0 573.5,357.5 575.8,358.5 578.1,357.4 580.4,360.5 582.6,362.4 584.9,363.2 587.2,363.2 589.5,365.7 591.7,365.7 594.0,367.0 596.3,367.6 598.6,371.8 600.8,371.6 603.1,373.4 605.4,374.2 607.7,377.3 609.9,377.0 612.2,381.2 614.5,382.1 616.8,380.0 619.0,383.3 621.3,385.9 623.6,387.3 625.9,389.9 628.1,388.7 630.4,388.7 632.7,391.0 635.0,393.3 637.2,395.6 639.5,395.3 641.8,399.1 644.1,399.2 646.3,400.5 648.6,400.7 650.9,402.8 653.2,405.8 655.4,407.9 657.7,405.0 660.0,408.2 662.3,411.7 664.5,412.4 666.8,413.3 669.1,413.0 671.4,416.5 673.6,417.7 675.9,417.3 678.2,417.6 680.5,423.0 682.7,421.7 685.0,427.3 687.3,427.0 689.6,426.6 691.8,426.8 694.1,425.2 696.4,432.9" fill="none" stroke="none" marker-start="url(#m0_4)" marker-mid="url(#m0_4)" marker-end="url(#m0_4)"/>
<polyline points="127.6,445.0 129.9,448.3 132.2,439.7 134.4,436.8 136.7,443.1 139.0,439.8 141.3,437.6 143.6,437.9 145.8,431.8 148.1,429.6 150.4,433.0 152.7,429.3 154.9,429.6 157.2,427.0 159.5,425.0 161.8,426.9 164.0,422.6 166.3,421.0 168.6,420.7 170.9,417.5 173.1,420.8 175.4,415.7 177.7,412.7 180.0,408.4 182.2,407.2 184.5,409.3 186.8,406.9 189.1,406.6 191.3,403.7 193.6,403.7 195.9,406.8 198.2,398.1 200.4,401.2 202.7,397.0 205.0,395.4 207.3,395.5 209.5,396.3 211.8,388.6 214.1,389.9 216.4,390.0 218.6,384.0 220.9,388.7 223.2,385.5 225.5,381.9 227.7,381.5 230.0,383.4 232.3,375.8 234.6,375.7 236.8,375.1 239.1,372.5 241.4,371.5 243.7,373.6 245.9,368.4 248.2,368.1 250.5,367.8 252.8,365.5 255.0,367.4 257.3,361.0 259.6,363.3 261.9,359.0 264.1,356.6 266.4,356.9 268.7,355.4 271.0,352.8 273.2,354.5 275.5,352.0 277.8,350.6 280.1,347.1 282.3,348.6 284.6,346.9 286.9,343.6 289.2,344.6 291.4,341.8 293.7,341.2 296.0,341.1 298.3,338.6 300.5,335.8 302.8,333.9 305.1,335.1 307.4,331.8 309.6,332.4 311.9,328.4 314.2,328.5 316.5,327.3 318.7,324.7 321.0,323.6 323.3,324.3 325.6,322.9 327.8,322.1 330.1,318.0 332.4,317.1 334.7,318.6 336.9,317.8 339.2,315.7 341.5,315.9 343.8,314.7 346.0,312.7 348.3,311.3 350.6,308.9 352.9,309.6 355.1,308.9 357.4,308.4 359.7,306.8 362.0,305.2 364.2,303.0 366.5,303.1 368.8,303.8 371.1,301.1 373.3,301.8 375.6,300.7 377.9,300.6 380.2,298.8 382.4,297.0 384.7,297.1 387.0,297.4 389.3,298.3 391.5,295.0 393.8,296.7 396.1,296.3 398.4,295.3 400.6,297.0 402.9,296.0 405.2,294.5 407.5,296.3 409.7,293.5 412.0,295.6 414.3,293.8 416.6,294.5 418.8,294.5 421.1,295.9 423.4,294.6 425.7,293.4 427.9,294.7 430.2,295.1 432.5,294.7 434.8,298.3 437.0,297.8 439.3,295.8 441.6,296.7 443.9,299.3 446.1,300.1 448.4,301.3 450.7,302.1 453.0,300.6 455.2,303.1 457.5,303.6 459.8,304.5 462.1,303.1 464.3,306.9 466.6,306.9 468.9,307.6 471.2,309.5 473.4,311.1 475.7,311.8 478.0,312.2 480.3,313.1 482.5,314.6 484.8,316.6 487.1,316.9 489.4,316.9 491.6,319.0 493.9,319.9 496.2,319.8 498.5,322.7 500.7,323.4 503.0,324.5 505.3,327.1 507.6,325.3 509.8,328.1 512.1,331.2 514.4,330.8 516.7,331.3 518.9,335.2 521.2,333.9 523.5,335.1 525.8,338.0 528.0,337.6 530.3,342.3 532.6,340.8 534.9,344.5 537.1,343.0 539.4,346.9 541.7,345.5 544.0,348.7 546.2,347.4 548.5,352.3 550.8,351.7 553.1,356.0 555.3,354.4 557.6,358.7 559.9,358.5 562.2,358.7 564.4,360.7 566.7,361.7 569.0,362.1 571.3,369.5 573.5,366.6 575.8,368.7 578.1,369.5 580.4,370.9 582.6,370.8 584.9,373.8 587.2,375.2 589.5,376.6 591.7,378.4 594.0,381.6 596.3,381.7 598.6,381.0 600.8,385.6 603.1,386.1 605.4,387.3 607.7,386.2 609.9,392.4 612.2,392.9 614.5,389.0 616.8,395.4 619.0,394.1 621.3,395.0 623.6,398.8 625.9,402.1 628.1,405.6 630.4,403.2 632.7,405.5 635.0,405.4 637.2,408.7 639.5,408.6 641.8,407.6 644.1,414.7 646.3,413.1 648.6,414.2 650.9,416.4 653.2,415.7 655.4,418.8 657.7,419.8 660.0,422.8 662.3,424.9 664.5,424.1 666.8,424.2 669.1,428.7 671.4,431.7 673.6,429.9 675.9,435.3 678.2,433.2 680.5,436.3 682.7,437.5 685.0,441.2 687.3,438.5 689.6,442.8 691.8,444.3 694.1,445.3 696.4,451.8" fill="none" stroke="none" marker-start="url(#m0_5)" marker-mid="url(#m0_5)" marker-end="url(#m0_5)"/>
<polyline points="173.1,449.8 175.4,447.9 177.7,443.0 180.0,445.0 182.2,442.6 184.5,439.0 186.8,439.8 189.1,437.3 191.3,431.4 193.6,430.7 195.9,429.7 198.2,427.5 200.4,426.0 202.7,423.3 205.0,424.6 207.3,416.5 209.5,421.7 211.8,416.5 214.1,414.8 216.4,410.3 218.6,410.3 220.9,407.5 223.2,412.0 225.5,405.0 227.7,404.3 230.0,403.1 232.3,404.1 234.6,399.9 236.8,395.7 239.1,396.0 241.4,392.9 243.7,391.8 245.9,389.5 248.2,388.9 250.5,389.8 252.8,387.7 255.0,386.9 257.3,386.2 259.6,384.1 261.9,382.2 264.1,383.5 266.4,381.5 268.7,375.6 271.0,376.5 273.2,375.2 275.5,373.8 277.8,373.1 280.1,371.6 282.3,371.0 284.6,368.8 286.9,364.8 289.2,367.3 291.4,366.2 293.7,365.1 296.0,364.6 298.3,363.0 300.5,362.1 302.8,360.6 305.1,360.8 307.4,360.3 309.6,356.7 311.9,355.6 314.2,357.6 316.5,355.2 318.7,355.3 321.0,353.9 323.3,352.5 325.6,350.1 327.8,350.7 330.1,352.4 332.4,348.2 334.7,350.4 336.9,350.7 339.2,347.6 341.5,346.8 343.8,345.2 346.0,345.8 348.3,344.0 350.6,344.7 352.9,343.3 355.1,343.4 357.4,342.0 359.7,343.0 362.0,339.8 364.2,341.3 366.5,343.0 368.8,341.9 371.1,340.9 373.3,337.5 375.6,340.6 377.9,337.3 380.2,338.8 382.4,340.7 384.7,339.9 387.0,339.6 389.3,338.4 391.5,337.3 393.8,336.3 396.1,337.6 398.4,338.3 400.6,339.6 402.9,340.0 405.2,336.9 407.5,336.9 409.7,335.8 412.0,339.1 414.3,338.9 416.6,337.1 418.8,336.7 421.1,338.9 423.4,339.4 425.7,338.4 427.9,339.0 430.2,338.2 432.5,336.8 434.8,337.9 437.0,339.8 439.3,339.6 441.6,339.6 443.9,338.7 446.1,339.4 448.4,340.9 450.7,340.3 453.0,341.3 455.2,341.3 457.5,341.4 459.8,344.0 462.1,342.2 464.3,343.4 466.6,343.9 468.9,345.6 471.2,345.7 473.4,342.8 475.7,344.9 478.0,346.6 480.3,346.1 482.5,346.7 484.8,348.0 487.1,346.9 489.4,349.8 491.6,349.8 493.9,352.0 496.2,350.8 498.5,351.2 500.7,350.0 503.0,352.7 505.3,353.9 507.6,353.4 509.8,359.6 512.1,354.7 514.4,357.4 516.7,358.9 518.9,358.4 521.2,361.7 523.5,361.6 525.8,362.9 528.0,363.3 530.3,365.5 532.6,366.8 534.9,368.0 537.1,367.3 539.4,368.7 541.7,369.6 544.0,373.8 546.2,374.6 548.5,373.9 550.8,375.7 553.1,376.4 555.3,379.6 557.6,377.7 559.9,382.3 562.2,379.4 564.4,385.5 566.7,383.6 569.0,384.1 571.3,386.6 573.5,391.0 575.8,390.1 578.1,389.4 580.4,397.4 582.6,394.0 584.9,396.8 587.2,398.3 589.5,399.1 591.7,404.0 594.0,403.5 596.3,404.6 598.6,407.1 600.8,408.3 603.1,408.3 605.4,414.1 607.7,411.1 609.9,414.6 612.2,417.5 614.5,420.2 616.8,421.6 619.0,421.5 621.3,426.2 623.6,428.7 625.9,427.3 628.1,427.8 630.4,433.7 632.7,432.5 635.0,437.2 637.2,435.2 639.5,438.5 641.8,439.1 644.1,445.4 646.3,446.9 648.6,449.7 650.9,450.0 653.2,452.1" fill="none" stroke="none" marker-start="url(#m0_6)" marker-mid="url(#m0_6)" marker-end="url(#m0_6)"/>
<polyline points="168.6,451.5 170.9,451.5 173.1,448.2 175.4,450.3 177.7,444.4 180.0,443.7 182.2,444.9 184.5,439.7 186.8,444.4 189.1,437.0 191.3,440.1 193.6,435.2 195.9,434.8 198.2,431.4 200.4,433.0 202.7,431.7 205.0,427.7 207.3,430.7 209.5,425.0 211.8,422.9 214.1,425.8 216.4,421.7 218.6,421.3 220.9,419.7 223.2,419.4 225.5,420.0 227.7,415.3 230.0,415.0 232.3,415.7 234.6,408.9 236.8,413.9 239.1,411.2 241.4,409.7 243.7,408.0 245.9,407.8 248.2,403.7 250.5,408.0 252.8,404.1 255.0,401.7 257.3,401.7 259.6,402.5 261.9,399.6 264.1,402.6 266.4,398.7 268.7,396.6 271.0,395.0 273.2,396.5 275.5,393.2 277.8,393.5 280.1,392.4 282.3,393.0 284.6,389.4 286.9,390.0 289.2,388.0 291.4,386.9 293.7,385.1 296.0,387.9 298.3,386.0 300.5,382.5 302.8,383.8 305.1,384.5 307.4,384.6 309.6,382.4 311.9,384.1 314.2,381.3 316.5,379.2 318.7,380.4 321.0,379.2 323.3,379.4 325.6,378.2 327.8,375.8 330.1,378.0 332.4,375.5 334.7,375.2 336.9,377.7 339.2,373.4 341.5,371.9 343.8,374.4 346.0,372.0 348.3,373.0 350.6,373.0 352.9,371.2 355.1,371.6 357.4,372.3 359.7,372.1 362.0,367.9 364.2,370.3 366.5,369.0 368.8,368.4 371.1,370.7 373.3,369.3 375.6,371.1 377.9,368.7 380.2,367.2 382.4,367.6 384.7,368.3 387.0,367.1 389.3,368.8 391.5,369.0 393.8,368.9 396.1,367.0 398.4,367.6 400.6,366.1 402.9,367.5 405.2,368.2 407.5,367.2 409.7,369.5 412.0,367.1 414.3,367.4 416.6,368.2 418.8,366.6 421.1,369.6 423.4,368.4 425.7,367.3 427.9,366.6 430.2,368.6 432.5,366.5 434.8,368.7 437.0,367.3 439.3,366.8 441.6,371.3 443.9,367.9 446.1,368.0 448.4,368.2 450.7,370.2 453.0,372.9 455.2,369.0 457.5,370.6 459.8,372.5 462.1,370.4 464.3,371.3 466.6,371.7 468.9,372.1 471.2,372.7 473.4,372.9 475.7,375.3 478.0,373.8 480.3,374.3 482.5,375.1 484.8,374.0 487.1,374.7 489.4,377.6 491.6,376.4 493.9,375.4 496.2,378.1 498.5,378.8 500.7,378.6 503.0,378.6 505.3,379.4 507.6,380.4 509.8,381.2 512.1,380.8 514.4,382.0 516.7,384.5 518.9,382.7 521.2,386.7 523.5,384.3 525.8,386.0 528.0,384.9 530.3,386.7 532.6,387.6 534.9,389.1 537.1,389.6 539.4,392.6 541.7,393.9 544.0,393.4 546.2,392.6 548.5,394.3 550.8,392.6 553.1,394.8 555.3,395.9 557.6,396.2 559.9,400.9 562.2,400.3 564.4,401.7 566.7,401.1 569.0,399.7 571.3,403.5 573.5,404.7 575.8,408.1 578.1,407.9 580.4,408.4 582.6,410.4 584.9,413.6 587.2,411.6 589.5,409.2 591.7,413.8 594.0,410.5 596.3,414.9 598.6,415.2 600.8,420.0 603.1,418.7 605.4,419.1 607.7,426.6 609.9,424.0 612.2,426.5 614.5,427.0 616.8,427.2 619.0,429.0 621.3,431.7 623.6,434.9 625.9,433.8 628.1,433.4 630.4,434.5 632.7,439.4 635.0,439.8 637.2,440.9 639.5,443.1 641.8,443.1 644.1,446.3 646.3,450.9 648.6,447.1 650.9,448.3 653.2,452.7 657.7,451.0" fill="none" stroke="none" marker-start="url(#m0_7)" marker-mid="url(#m0_7)" marker-end="url(#m0_7)"/>
<polyline points="205.0,449.7 209.5,451.1 211.8,448.1 214.1,446.0 216.4,446.5 218.6,443.4 220.9,441.9 223.2,442.6 225.5,439.7 227.7,438.9 230.0,435.9 232.3,439.1 234.6,436.5 236.8,437.4 239.1,432.0 241.4,430.0 243.7,430.0 245.9,430.9 248.2,428.5 250.5,426.3 252.8,424.3 255.0,426.1 257.3,424.1 259.6,423.8 261.9,424.9 264.1,420.0 266.4,423.7 268.7,419.6 271.0,416.5 273.2,416.2 275.5,419.5 277.8,413.4 280.1,415.1 282.3,412.7 284.6,412.3 286.9,411.9 289.2,414.5 291.4,411.5 293.7,410.5 296.0,409.3 298.3,409.2 300.5,410.4 302.8,406.8 305.1,405.6 307.4,405.4 309.6,403.3 311.9,405.1 314.2,403.6 316.5,406.4 318.7,405.9 321.0,404.7 323.3,402.7 325.6,401.7 327.8,400.7 330.1,399.4 332.4,400.7 334.7,398.4 336.9,398.2 339.2,397.8 341.5,395.9 343.8,398.3 346.0,394.5 348.3,397.9 350.6,395.7 352.9,396.2 355.1,394.5 357.4,393.1 359.7,391.4 362.0,394.4 364.2,393.0 366.5,392.8 368.8,392.6 371.1,393.9 373.3,392.3 375.6,395.0 377.9,391.7 380.2,393.0 382.4,394.1 384.7,390.8 387.0,392.3 389.3,390.8 391.5,390.5 393.8,391.3 396.1,390.0 398.4,391.7 400.6,390.4 402.9,390.7 405.2,391.7 407.5,392.0 409.7,390.3 412.0,391.2 414.3,389.8 416.6,390.3 418.8,389.7 421.1,390.6 423.4,391.5 425.7,391.8 427.9,392.0 430.2,390.6 432.5,391.3 434.8,392.2 437.0,391.4 439.3,392.1 441.6,391.7 443.9,391.1 446.1,391.3 448.4,393.0 450.7,391.2 453.0,394.8 455.2,393.1 457.5,392.8 459.8,395.7 462.1,392.1 464.3,394.0 466.6,393.4 468.9,395.4 471.2,393.3 473.4,394.7 475.7,396.5 478.0,394.7 480.3,398.1 482.5,397.2 484.8,397.3 487.1,399.2 489.4,397.8 491.6,399.6 493.9,401.7 496.2,400.9 498.5,401.2 500.7,400.8 503.0,403.0 505.3,403.6 507.6,403.8 509.8,404.2 512.1,402.2 514.4,405.7 516.7,410.3 518.9,407.8 521.2,405.4 523.5,405.4 525.8,409.1 528.0,411.9 530.3,409.5 532.6,412.8 534.9,411.5 537.1,412.6 539.4,412.9 541.7,418.0 544.0,414.0 546.2,418.3 548.5,418.5 550.8,417.0 553.1,420.7 555.3,420.2 557.6,419.1 559.9,422.8 562.2,424.4 564.4,425.6 566.7,427.2 569.0,426.0 571.3,426.8 573.5,431.4 575.8,429.2 578.1,431.2 580.4,429.6 582.6,434.7 584.9,434.8 587.2,434.3 589.5,435.3 591.7,439.2 594.0,440.1 596.3,437.7 598.6,437.5 600.8,439.9 603.1,449.5 605.4,443.8 607.7,445.3 609.9,449.7 612.2,447.5 614.5,448.1 616.8,449.3" fill="none" stroke="none" marker-start="url(#m0_8)" marker-mid="url(#m0_8)" marker-end="url(#m0_8)"/>
<polyline points="286.9,451.8 289.2,449.7 291.4,444.9 293.7,449.9 296.0,449.3 298.3,444.7 300.5,446.7 302.8,441.7 305.1,443.0 307.4,441.6 309.6,444.9 311.9,441.1 314.2,444.4 316.5,440.5 318.7,442.9 321.0,439.1 323.3,439.4 325.6,439.5 327.8,437.7 330.1,438.7 332.4,438.7 334.7,437.6 336.9,433.7 339.2,433.6 341.5,435.0 343.8,431.6 346.0,434.7 348.3,433.4 350.6,430.5 352.9,431.1 355.1,434.0 357.4,435.2 359.7,430.0 362.0,430.6 364.2,431.5 366.5,432.0 368.8,429.8 371.1,427.8 373.3,427.6 375.6,428.3 377.9,429.4 380.2,428.6 382.4,427.9 384.7,428.5 387.0,426.6 389.3,431.0 391.5,431.1 393.8,426.6 396.1,426.0 398.4,428.7 400.6,428.0 402.9,426.7 405.2,423.7 407.5,425.8 409.7,424.9 412.0,425.7 414.3,429.2 416.6,427.0 418.8,426.1 421.1,425.3 423.4,426.2 425.7,425.2 427.9,428.0 430.2,427.1 432.5,428.2 434.8,425.5 437.0,428.2 439.3,430.2 441.6,427.6 443.9,427.7 446.1,427.3 448.4,432.0 450.7,431.3 453.0,426.4 455.2,430.4 457.5,431.4 459.8,433.5 462.1,433.6 464.3,428.3 466.6,429.2 468.9,430.1 471.2,431.6 473.4,432.8 475.7,435.7 478.0,435.3 480.3,434.1 482.5,432.9 484.8,436.7 487.1,438.4 489.4,437.2 491.6,436.0 493.9,437.0 496.2,435.0 498.5,440.1 500.7,437.1 503.0,438.9 505.3,440.4 507.6,436.9 509.8,439.6 512.1,443.8 514.4,444.2 516.7,443.2 518.9,445.9 521.2,449.3 523.5,444.9 525.8,444.2 528.0,450.9 530.3,447.0 532.6,450.6 534.9,449.7 537.1,450.9 544.0,452.1" fill="none" stroke="none" marker-start="url(#m0_9)" marker-mid="url(#m0_9)" marker-end="url(#m0_9)"/>
</g></g>
<clipPath id="cA1"><rect x="127.6" y="449.0" width="568.8" height="443"/></clipPath>
<defs><marker id="m1_0" markerUnits="userSpaceOnUse" markerWidth="8" markerHeight="8" refX="4" refY="4" overflow="visible"><circle cx="4" cy="4" r="2.75" fill="#e8a22a" fill-opacity="0.120" stroke="#e8a22a" stroke-opacity="0.102" stroke-width="1.3"/></marker><marker id="m1_1" markerUnits="userSpaceOnUse" markerWidth="8" markerHeight="8" refX="4" refY="4" overflow="visible"><circle cx="4" cy="4" r="2.75" fill="#e8a22a" fill-opacity="0.180" stroke="#e8a22a" stroke-opacity="0.153" stroke-width="1.3"/></marker><marker id="m1_2" markerUnits="userSpaceOnUse" markerWidth="8" markerHeight="8" refX="4" refY="4" overflow="visible"><circle cx="4" cy="4" r="2.75" fill="#e8a22a" fill-opacity="0.240" stroke="#e8a22a" stroke-opacity="0.204" stroke-width="1.3"/></marker><marker id="m1_3" markerUnits="userSpaceOnUse" markerWidth="8" markerHeight="8" refX="4" refY="4" overflow="visible"><circle cx="4" cy="4" r="2.75" fill="#e8a22a" fill-opacity="0.300" stroke="#e8a22a" stroke-opacity="0.255" stroke-width="1.3"/></marker><marker id="m1_4" markerUnits="userSpaceOnUse" markerWidth="8" markerHeight="8" refX="4" refY="4" overflow="visible"><circle cx="4" cy="4" r="2.75" fill="#e8a22a" fill-opacity="0.360" stroke="#e8a22a" stroke-opacity="0.306" stroke-width="1.3"/></marker><marker id="m1_5" markerUnits="userSpaceOnUse" markerWidth="8" markerHeight="8" refX="4" refY="4" overflow="visible"><circle cx="4" cy="4" r="2.75" fill="#e8a22a" fill-opacity="0.450" stroke="#e8a22a" stroke-opacity="0.383" stroke-width="1.3"/></marker><marker id="m1_6" markerUnits="userSpaceOnUse" markerWidth="8" markerHeight="8" refX="4" refY="4" overflow="visible"><circle cx="4" cy="4" r="2.75" fill="#e8a22a" fill-opacity="0.600" stroke="#e8a22a" stroke-opacity="0.510" stroke-width="1.3"/></marker><marker id="m1_7" markerUnits="userSpaceOnUse" markerWidth="8" markerHeight="8" refX="4" refY="4" overflow="visible"><circle cx="4" cy="4" r="2.75" fill="#e8a22a" fill-opacity="0.720" stroke="#e8a22a" stroke-opacity="0.612" stroke-width="1.3"/></marker><marker id="m1_8" markerUnits="userSpaceOnUse" markerWidth="8" markerHeight="8" refX="4" refY="4" overflow="visible"><circle cx="4" cy="4" r="2.75" fill="#e8a22a" fill-opacity="0.850" stroke="#e8a22a" stroke-opacity="0.722" stroke-width="1.3"/></marker><marker id="m1_9" markerUnits="userSpaceOnUse" markerWidth="8" markerHeight="8" refX="4" refY="4" overflow="visible"><circle cx="4" cy="4" r="2.75" fill="#e8a22a" fill-opacity="0.970" stroke="#e8a22a" stroke-opacity="0.825" stroke-width="1.3"/></marker></defs>
<g clip-path="url(#cA1)"><g filter="url(#soft)">
<polyline points="380.2,892.2 384.7,862.2 387.0,824.5 389.3,773.2 391.5,701.1 393.8,662.0 396.1,642.0 398.4,606.7 400.6,581.9 402.9,553.6 405.2,530.8 407.5,529.9 409.7,514.2 412.0,516.1 414.3,524.6 416.6,535.5 418.8,555.7 421.1,579.7 423.4,613.7 425.7,636.5 427.9,666.2 430.2,710.0 432.5,740.8 434.8,789.7 437.0,817.4 439.3,875.7" fill="none" stroke="none" marker-start="url(#m1_0)" marker-mid="url(#m1_0)" marker-end="url(#m1_0)"/>
<polyline points="375.6,857.4 377.9,867.3 380.2,827.5 382.4,767.5 384.7,736.6 387.0,709.7 389.3,691.0 391.5,650.7 393.8,645.3 396.1,610.7 398.4,585.6 400.6,576.8 402.9,554.7 405.2,545.7 407.5,535.9 409.7,529.4 412.0,537.0 414.3,538.5 416.6,545.7 418.8,563.5 421.1,580.7 423.4,596.4 425.7,614.1 427.9,635.0 430.2,666.4 432.5,681.0 434.8,713.6 437.0,750.5 439.3,806.2 441.6,811.0 443.9,840.9" fill="none" stroke="none" marker-start="url(#m1_1)" marker-mid="url(#m1_1)" marker-end="url(#m1_1)"/>
<polyline points="368.8,862.2 373.3,840.9 375.6,829.6 377.9,786.7 380.2,775.7 382.4,740.0 384.7,712.7 387.0,684.9 389.3,660.9 391.5,643.2 393.8,626.2 396.1,608.3 398.4,595.2 400.6,570.2 402.9,563.4 405.2,556.0 407.5,549.4 409.7,547.7 412.0,549.0 414.3,552.3 416.6,564.0 418.8,572.0 421.1,576.0 423.4,597.5 425.7,617.6 427.9,625.2 430.2,652.7 432.5,673.2 434.8,694.5 437.0,705.5 439.3,731.1 441.6,770.8 443.9,811.0 446.1,811.0 448.4,870.9 450.7,847.4" fill="none" stroke="none" marker-start="url(#m1_2)" marker-mid="url(#m1_2)" marker-end="url(#m1_2)"/>
<polyline points="364.2,883.5 366.5,845.7 368.8,811.0 371.1,817.4 373.3,789.7 375.6,766.2 377.9,764.5 380.2,716.6 382.4,693.2 384.7,690.1 387.0,667.1 389.3,649.9 391.5,634.8 393.8,617.0 396.1,597.9 398.4,585.7 400.6,581.0 402.9,568.4 405.2,563.1 407.5,558.7 409.7,559.3 412.0,556.7 414.3,562.4 416.6,569.4 418.8,572.5 421.1,590.1 423.4,596.4 425.7,612.4 427.9,624.5 430.2,634.8 432.5,654.9 434.8,664.5 437.0,695.8 439.3,712.4 441.6,732.9 443.9,758.2 446.1,792.0 448.4,814.1 450.7,824.5 453.0,868.7" fill="none" stroke="none" marker-start="url(#m1_3)" marker-mid="url(#m1_3)" marker-end="url(#m1_3)"/>
<polyline points="357.4,885.8 362.0,860.0 364.2,823.1 366.5,781.7 368.8,780.2 371.1,752.3 373.3,734.4 375.6,712.5 377.9,706.8 380.2,686.4 382.4,668.7 384.7,655.6 387.0,647.8 389.3,637.2 391.5,620.1 393.8,616.5 396.1,602.5 398.4,588.2 400.6,585.6 402.9,578.6 405.2,581.3 407.5,579.5 409.7,573.0 412.0,571.5 414.3,573.5 416.6,581.2 418.8,590.3 421.1,594.1 423.4,601.6 425.7,612.2 427.9,621.5 430.2,634.7 432.5,642.8 434.8,660.1 437.0,673.4 439.3,692.9 441.6,701.0 443.9,731.2 446.1,741.9 448.4,765.5 450.7,763.2 453.0,781.7 455.2,825.8 457.5,825.8 459.8,860.0 462.1,860.0" fill="none" stroke="none" marker-start="url(#m1_4)" marker-mid="url(#m1_4)" marker-end="url(#m1_4)"/>
<polyline points="350.6,845.7 352.9,875.7 355.1,853.5 357.4,803.6 359.7,795.7 362.0,797.0 364.2,759.0 366.5,764.5 368.8,731.8 371.1,728.7 373.3,717.9 375.6,705.1 377.9,684.9 380.2,675.0 382.4,668.2 384.7,653.8 387.0,651.5 389.3,633.7 391.5,626.6 393.8,621.8 396.1,616.3 398.4,606.8 400.6,599.9 402.9,596.4 405.2,590.9 407.5,590.9 409.7,592.8 412.0,594.1 414.3,594.1 416.6,598.5 418.8,602.7 421.1,609.1 423.4,614.9 425.7,630.3 427.9,631.2 430.2,639.3 432.5,648.2 434.8,654.9 437.0,672.1 439.3,680.3 441.6,694.2 443.9,712.4 446.1,724.8 448.4,740.2 450.7,753.8 453.0,772.3 455.2,775.1 457.5,778.0 459.8,814.1 462.1,809.4 464.3,872.1 466.6,862.2" fill="none" stroke="none" marker-start="url(#m1_5)" marker-mid="url(#m1_5)" marker-end="url(#m1_5)"/>
<polyline points="309.6,888.4 311.9,883.9 314.2,871.0 316.5,862.5 318.7,854.4 321.0,847.0 323.3,839.3 325.6,831.5 327.8,825.9 330.1,810.9 332.4,803.5 334.7,793.2 336.9,787.2 339.2,779.8 341.5,772.6 343.8,764.5 346.0,753.7 348.3,747.4 350.6,740.3 352.9,732.3 355.1,726.5 357.4,718.6 359.7,709.8 362.0,702.8 364.2,694.8 366.5,688.6 368.8,680.8 371.1,675.8 373.3,668.3 375.6,663.4 377.9,657.7 380.2,652.1 382.4,647.3 384.7,642.0 387.0,638.1 389.3,634.1 391.5,631.3 393.8,627.8 396.1,626.0 398.4,623.7 400.6,622.4 402.9,621.0 405.2,622.0 407.5,623.4 409.7,625.3 412.0,626.5 414.3,629.7 416.6,633.6 418.8,637.9 421.1,642.3 423.4,645.6 425.7,650.3 427.9,655.5 430.2,660.6 432.5,665.6 434.8,670.7 437.0,675.7 439.3,681.8 441.6,686.6 443.9,691.8 446.1,698.0 448.4,703.0 450.7,708.1 453.0,712.6 455.2,720.0 457.5,723.6 459.8,728.4 462.1,734.1 464.3,740.2 466.6,746.1 468.9,753.6 471.2,755.8 473.4,764.6 475.7,765.3 478.0,773.0 480.3,781.4 482.5,785.2 484.8,787.6 487.1,797.4 489.4,802.3 491.6,807.8 493.9,812.3 496.2,818.0 498.5,824.7 500.7,828.8 503.0,836.4 505.3,842.3 507.6,848.0 509.8,852.5 512.1,860.2 514.4,866.6 516.7,870.5 518.9,872.2 521.2,880.4 523.5,888.5 525.8,891.6" fill="none" stroke="none" marker-start="url(#m1_6)" marker-mid="url(#m1_6)" marker-end="url(#m1_6)"/>
<polyline points="293.7,890.5 296.0,887.6 298.3,883.6 300.5,874.7 302.8,863.7 305.1,860.3 307.4,851.0 309.6,843.8 311.9,839.0 314.2,833.9 316.5,823.5 318.7,820.2 321.0,812.5 323.3,804.5 325.6,796.6 327.8,791.9 330.1,783.1 332.4,776.6 334.7,767.1 336.9,763.4 339.2,755.7 341.5,749.9 343.8,742.7 346.0,735.4 348.3,730.6 350.6,724.1 352.9,717.8 355.1,713.2 357.4,707.7 359.7,700.3 362.0,694.6 364.2,690.9 366.5,683.8 368.8,679.1 371.1,672.8 373.3,669.8 375.6,666.0 377.9,660.1 380.2,656.7 382.4,653.0 384.7,650.2 387.0,647.8 389.3,643.9 391.5,643.9 393.8,640.4 396.1,639.0 398.4,637.7 400.6,636.6 402.9,636.7 405.2,637.5 407.5,639.6 409.7,640.6 412.0,641.8 414.3,643.6 416.6,648.0 418.8,650.5 421.1,655.4 423.4,658.0 425.7,661.0 427.9,666.4 430.2,669.8 432.5,675.0 434.8,677.9 437.0,682.7 439.3,687.5 441.6,690.9 443.9,695.0 446.1,700.1 448.4,704.5 450.7,709.7 453.0,713.5 455.2,717.2 457.5,724.6 459.8,726.4 462.1,731.3 464.3,736.9 466.6,740.8 468.9,746.4 471.2,750.5 473.4,754.0 475.7,761.2 478.0,765.8 480.3,766.9 482.5,774.7 484.8,779.5 487.1,782.8 489.4,784.1 491.6,792.3 493.9,796.5 496.2,802.8 498.5,805.4 500.7,810.1 503.0,815.2 505.3,822.0 507.6,825.6 509.8,829.6 512.1,834.4 514.4,840.5 516.7,843.4 518.9,854.3 521.2,851.4 523.5,857.6 525.8,864.9 528.0,869.9 530.3,867.9 532.6,876.8 534.9,884.5 537.1,884.3 539.4,894.9" fill="none" stroke="none" marker-start="url(#m1_7)" marker-mid="url(#m1_7)" marker-end="url(#m1_7)"/>
<polyline points="282.3,895.0 284.6,885.7 286.9,881.5 289.2,872.6 291.4,869.1 293.7,860.3 296.0,859.7 298.3,852.0 300.5,841.9 302.8,839.6 305.1,830.1 307.4,823.9 309.6,817.4 311.9,813.6 314.2,807.7 316.5,800.1 318.7,794.6 321.0,788.8 323.3,783.5 325.6,777.0 327.8,771.2 330.1,765.0 332.4,761.1 334.7,754.3 336.9,747.1 339.2,743.7 341.5,737.3 343.8,731.8 346.0,726.5 348.3,721.1 350.6,715.7 352.9,711.8 355.1,706.1 357.4,701.6 359.7,698.2 362.0,693.8 364.2,688.3 366.5,684.3 368.8,681.2 371.1,677.2 373.3,673.6 375.6,669.6 377.9,668.1 380.2,663.7 382.4,660.4 384.7,659.5 387.0,656.3 389.3,655.2 391.5,653.1 393.8,651.5 396.1,651.9 398.4,650.4 400.6,649.6 402.9,650.5 405.2,652.0 407.5,651.3 409.7,653.5 412.0,655.4 414.3,657.4 416.6,660.1 418.8,662.9 421.1,665.2 423.4,668.7 425.7,671.7 427.9,676.0 430.2,678.0 432.5,682.1 434.8,685.1 437.0,688.5 439.3,691.7 441.6,698.2 443.9,701.2 446.1,705.0 448.4,708.0 450.7,712.8 453.0,715.8 455.2,720.5 457.5,725.0 459.8,730.0 462.1,732.9 464.3,737.2 466.6,739.9 468.9,743.3 471.2,748.7 473.4,753.2 475.7,758.5 478.0,761.3 480.3,764.6 482.5,768.1 484.8,772.8 487.1,778.9 489.4,780.7 491.6,786.5 493.9,788.3 496.2,794.5 498.5,798.5 500.7,803.0 503.0,803.6 505.3,810.0 507.6,815.2 509.8,818.4 512.1,824.0 514.4,826.1 516.7,829.7 518.9,834.0 521.2,840.1 523.5,841.8 525.8,848.4 528.0,853.8 530.3,854.5 532.6,860.0 534.9,865.1 537.1,870.3 539.4,872.6 541.7,875.2 544.0,880.7 546.2,881.5 548.5,891.8" fill="none" stroke="none" marker-start="url(#m1_8)" marker-mid="url(#m1_8)" marker-end="url(#m1_8)"/>
<polyline points="268.7,894.2 271.0,892.9 273.2,886.5 275.5,878.1 277.8,870.8 280.1,870.1 282.3,862.7 284.6,857.5 286.9,853.7 289.2,847.1 291.4,840.8 293.7,835.3 296.0,831.2 298.3,823.7 300.5,820.3 302.8,815.5 305.1,811.4 307.4,805.5 309.6,801.0 311.9,796.1 314.2,789.5 316.5,785.1 318.7,778.8 321.0,775.5 323.3,771.3 325.6,764.9 327.8,760.6 330.1,755.4 332.4,751.7 334.7,746.6 336.9,742.8 339.2,738.4 341.5,734.6 343.8,730.8 346.0,725.1 348.3,721.2 350.6,717.7 352.9,712.7 355.1,709.6 357.4,706.4 359.7,702.3 362.0,699.3 364.2,696.6 366.5,692.2 368.8,689.6 371.1,687.0 373.3,685.2 375.6,682.6 377.9,679.9 380.2,677.2 382.4,675.3 384.7,674.3 387.0,672.3 389.3,671.7 391.5,670.4 393.8,670.3 396.1,669.0 398.4,669.5 400.6,670.0 402.9,669.4 405.2,669.5 407.5,672.0 409.7,673.2 412.0,674.9 414.3,675.7 416.6,677.6 418.8,681.3 421.1,682.6 423.4,686.0 425.7,687.8 427.9,692.1 430.2,693.2 432.5,696.9 434.8,700.1 437.0,702.4 439.3,706.9 441.6,708.5 443.9,711.6 446.1,715.2 448.4,718.0 450.7,722.2 453.0,724.2 455.2,727.5 457.5,731.6 459.8,735.7 462.1,739.9 464.3,742.2 466.6,744.3 468.9,749.4 471.2,752.4 473.4,757.6 475.7,759.7 478.0,761.9 480.3,767.1 482.5,770.5 484.8,774.1 487.1,778.3 489.4,781.3 491.6,785.5 493.9,787.9 496.2,791.9 498.5,793.2 500.7,798.2 503.0,801.2 505.3,806.4 507.6,810.4 509.8,812.9 512.1,816.0 514.4,819.2 516.7,822.5 518.9,825.5 521.2,830.4 523.5,833.2 525.8,837.3 528.0,841.3 530.3,842.7 532.6,851.4 534.9,852.5 537.1,855.9 539.4,856.9 541.7,860.2 544.0,863.7 546.2,864.7 548.5,873.0 550.8,876.0 553.1,880.7 555.3,884.3 557.6,889.4 559.9,889.7 562.2,894.3" fill="none" stroke="none" marker-start="url(#m1_9)" marker-mid="url(#m1_9)" marker-end="url(#m1_9)"/>
</g></g>
<clipPath id="cA2"><rect x="127.6" y="892.0" width="568.8" height="443"/></clipPath>
<defs><marker id="m2_0" markerUnits="userSpaceOnUse" markerWidth="8" markerHeight="8" refX="4" refY="4" overflow="visible"><circle cx="4" cy="4" r="2.75" fill="#47801f" fill-opacity="0.120" stroke="#47801f" stroke-opacity="0.102" stroke-width="1.3"/></marker><marker id="m2_1" markerUnits="userSpaceOnUse" markerWidth="8" markerHeight="8" refX="4" refY="4" overflow="visible"><circle cx="4" cy="4" r="2.75" fill="#47801f" fill-opacity="0.180" stroke="#47801f" stroke-opacity="0.153" stroke-width="1.3"/></marker><marker id="m2_2" markerUnits="userSpaceOnUse" markerWidth="8" markerHeight="8" refX="4" refY="4" overflow="visible"><circle cx="4" cy="4" r="2.75" fill="#47801f" fill-opacity="0.240" stroke="#47801f" stroke-opacity="0.204" stroke-width="1.3"/></marker><marker id="m2_3" markerUnits="userSpaceOnUse" markerWidth="8" markerHeight="8" refX="4" refY="4" overflow="visible"><circle cx="4" cy="4" r="2.75" fill="#47801f" fill-opacity="0.300" stroke="#47801f" stroke-opacity="0.255" stroke-width="1.3"/></marker><marker id="m2_4" markerUnits="userSpaceOnUse" markerWidth="8" markerHeight="8" refX="4" refY="4" overflow="visible"><circle cx="4" cy="4" r="2.75" fill="#47801f" fill-opacity="0.360" stroke="#47801f" stroke-opacity="0.306" stroke-width="1.3"/></marker><marker id="m2_5" markerUnits="userSpaceOnUse" markerWidth="8" markerHeight="8" refX="4" refY="4" overflow="visible"><circle cx="4" cy="4" r="2.75" fill="#47801f" fill-opacity="0.450" stroke="#47801f" stroke-opacity="0.383" stroke-width="1.3"/></marker><marker id="m2_6" markerUnits="userSpaceOnUse" markerWidth="8" markerHeight="8" refX="4" refY="4" overflow="visible"><circle cx="4" cy="4" r="2.75" fill="#47801f" fill-opacity="0.600" stroke="#47801f" stroke-opacity="0.510" stroke-width="1.3"/></marker><marker id="m2_7" markerUnits="userSpaceOnUse" markerWidth="8" markerHeight="8" refX="4" refY="4" overflow="visible"><circle cx="4" cy="4" r="2.75" fill="#47801f" fill-opacity="0.720" stroke="#47801f" stroke-opacity="0.612" stroke-width="1.3"/></marker><marker id="m2_8" markerUnits="userSpaceOnUse" markerWidth="8" markerHeight="8" refX="4" refY="4" overflow="visible"><circle cx="4" cy="4" r="2.75" fill="#47801f" fill-opacity="0.850" stroke="#47801f" stroke-opacity="0.722" stroke-width="1.3"/></marker><marker id="m2_9" markerUnits="userSpaceOnUse" markerWidth="8" markerHeight="8" refX="4" refY="4" overflow="visible"><circle cx="4" cy="4" r="2.75" fill="#47801f" fill-opacity="0.970" stroke="#47801f" stroke-opacity="0.825" stroke-width="1.3"/></marker></defs>
<g clip-path="url(#cA2)"><g filter="url(#soft)">
<polyline points="387.0,1305.2 389.3,1283.9 391.5,1220.0 393.8,1168.7 396.1,1115.6 398.4,1074.5 400.6,1027.7 402.9,996.0 405.2,961.5 407.5,944.6 409.7,934.0 412.0,934.0 414.3,944.8 416.6,964.6 418.8,991.8 421.1,1027.7 423.4,1070.2 425.7,1121.5 427.9,1166.8 430.2,1237.5 432.5,1318.7" fill="none" stroke="none" marker-start="url(#m2_0)" marker-mid="url(#m2_0)" marker-end="url(#m2_0)"/>
<polyline points="382.4,1335.2 384.7,1264.6 387.0,1232.7 389.3,1191.3 391.5,1140.1 393.8,1103.4 396.1,1081.3 398.4,1059.9 400.6,1027.2 402.9,995.4 405.2,974.6 407.5,967.1 409.7,957.5 412.0,956.0 414.3,966.1 416.6,981.0 418.8,999.0 421.1,1024.3 423.4,1060.6 425.7,1093.2 427.9,1124.0 430.2,1181.4 432.5,1200.3 434.8,1249.2 437.0,1335.2" fill="none" stroke="none" marker-start="url(#m2_1)" marker-mid="url(#m2_1)" marker-end="url(#m2_1)"/>
<polyline points="380.2,1335.2 382.4,1290.4 384.7,1258.2 387.0,1198.7 389.3,1144.6 391.5,1141.9 393.8,1092.4 396.1,1071.6 398.4,1044.7 400.6,1027.3 402.9,1012.3 405.2,991.4 407.5,984.6 409.7,975.7 412.0,975.4 414.3,986.7 416.6,990.4 418.8,1010.6 421.1,1029.5 423.4,1053.5 425.7,1068.9 427.9,1109.5 430.2,1151.5 432.5,1186.2 434.8,1239.1 437.0,1232.7 439.3,1313.9" fill="none" stroke="none" marker-start="url(#m2_2)" marker-mid="url(#m2_2)" marker-end="url(#m2_2)"/>
<polyline points="380.2,1283.9 382.4,1235.0 384.7,1188.7 387.0,1162.2 389.3,1128.5 391.5,1107.1 393.8,1090.8 396.1,1063.8 398.4,1049.4 400.6,1022.1 402.9,1010.5 405.2,1003.8 407.5,988.3 409.7,993.6 412.0,988.7 414.3,994.1 416.6,1003.4 418.8,1024.0 421.1,1033.1 423.4,1054.4 425.7,1079.5 427.9,1102.6 430.2,1133.7 432.5,1140.7 434.8,1199.7 437.0,1218.1 439.3,1299.3 441.6,1335.2" fill="none" stroke="none" marker-start="url(#m2_3)" marker-mid="url(#m2_3)" marker-end="url(#m2_3)"/>
<polyline points="371.1,1317.4 373.3,1303.0 375.6,1271.6 377.9,1226.3 380.2,1197.3 382.4,1179.8 384.7,1162.3 387.0,1124.2 389.3,1109.8 391.5,1097.5 393.8,1068.8 396.1,1048.7 398.4,1035.1 400.6,1024.6 402.9,1014.5 405.2,1007.4 407.5,1006.3 409.7,1004.7 412.0,1001.7 414.3,1010.7 416.6,1016.3 418.8,1024.3 421.1,1037.7 423.4,1052.7 425.7,1065.0 427.9,1089.8 430.2,1105.7 432.5,1127.7 434.8,1143.0 437.0,1170.5 439.3,1196.3 441.6,1231.0 443.9,1280.7 446.1,1294.8" fill="none" stroke="none" marker-start="url(#m2_4)" marker-mid="url(#m2_4)" marker-end="url(#m2_4)"/>
<polyline points="362.0,1311.7 364.2,1293.8 366.5,1271.2 368.8,1255.5 371.1,1227.1 373.3,1204.3 375.6,1200.4 377.9,1164.5 380.2,1141.4 382.4,1143.8 384.7,1121.0 387.0,1101.8 389.3,1093.6 391.5,1072.2 393.8,1067.1 396.1,1060.7 398.4,1043.7 400.6,1038.9 402.9,1034.0 405.2,1029.1 407.5,1033.2 409.7,1028.9 412.0,1026.4 414.3,1030.6 416.6,1039.2 418.8,1048.6 421.1,1053.5 423.4,1060.0 425.7,1070.5 427.9,1081.6 430.2,1099.8 432.5,1114.2 434.8,1127.4 437.0,1142.8 439.3,1155.8 441.6,1175.9 443.9,1201.2 446.1,1207.5 448.4,1226.1 450.7,1265.6 453.0,1273.2 455.2,1322.5" fill="none" stroke="none" marker-start="url(#m2_5)" marker-mid="url(#m2_5)" marker-end="url(#m2_5)"/>
<polyline points="325.6,1330.3 327.8,1318.3 330.1,1308.2 332.4,1296.3 334.7,1287.4 336.9,1275.2 339.2,1268.4 341.5,1255.8 343.8,1247.1 346.0,1237.2 348.3,1226.6 350.6,1218.5 352.9,1208.2 355.1,1197.7 357.4,1187.7 359.7,1179.1 362.0,1168.8 364.2,1161.1 366.5,1149.1 368.8,1139.6 371.1,1132.3 373.3,1125.1 375.6,1115.3 377.9,1106.1 380.2,1100.5 382.4,1092.9 384.7,1085.6 387.0,1079.5 389.3,1073.2 391.5,1068.7 393.8,1063.8 396.1,1061.1 398.4,1058.0 400.6,1056.2 402.9,1055.0 405.2,1055.5 407.5,1057.7 409.7,1060.3 412.0,1062.8 414.3,1066.6 416.6,1070.6 418.8,1074.9 421.1,1080.4 423.4,1086.6 425.7,1091.4 427.9,1097.9 430.2,1104.0 432.5,1109.8 434.8,1118.4 437.0,1122.7 439.3,1132.0 441.6,1137.5 443.9,1141.9 446.1,1150.1 448.4,1159.2 450.7,1164.6 453.0,1173.5 455.2,1179.3 457.5,1189.7 459.8,1194.9 462.1,1200.4 464.3,1210.1 466.6,1216.1 468.9,1221.2 471.2,1230.2 473.4,1235.2 475.7,1244.1 478.0,1254.0 480.3,1258.9 482.5,1267.1 484.8,1277.7 487.1,1279.1 489.4,1284.8 491.6,1293.4 493.9,1305.8 496.2,1308.6 498.5,1321.8 500.7,1326.9 503.0,1326.5" fill="none" stroke="none" marker-start="url(#m2_6)" marker-mid="url(#m2_6)" marker-end="url(#m2_6)"/>
<polyline points="307.4,1335.5 309.6,1328.7 311.9,1324.0 314.2,1317.3 316.5,1304.1 318.7,1297.6 321.0,1293.0 323.3,1279.9 325.6,1272.8 327.8,1261.9 330.1,1258.4 332.4,1249.8 334.7,1243.6 336.9,1230.9 339.2,1226.5 341.5,1217.1 343.8,1208.1 346.0,1200.3 348.3,1193.5 350.6,1186.3 352.9,1179.8 355.1,1170.7 357.4,1165.1 359.7,1157.5 362.0,1149.7 364.2,1143.4 366.5,1135.5 368.8,1130.2 371.1,1123.8 373.3,1117.3 375.6,1112.1 377.9,1106.1 380.2,1102.0 382.4,1096.6 384.7,1092.4 387.0,1088.8 389.3,1085.1 391.5,1081.7 393.8,1080.1 396.1,1078.4 398.4,1077.4 400.6,1076.0 402.9,1076.7 405.2,1078.0 407.5,1079.6 409.7,1081.5 412.0,1082.9 414.3,1085.1 416.6,1089.9 418.8,1091.2 421.1,1097.2 423.4,1101.1 425.7,1105.9 427.9,1109.9 430.2,1116.5 432.5,1119.7 434.8,1125.0 437.0,1130.7 439.3,1135.1 441.6,1141.5 443.9,1146.4 446.1,1152.6 448.4,1156.9 450.7,1162.5 453.0,1168.3 455.2,1174.2 457.5,1179.8 459.8,1184.6 462.1,1191.3 464.3,1195.8 466.6,1200.5 468.9,1208.2 471.2,1212.0 473.4,1220.5 475.7,1225.7 478.0,1231.1 480.3,1235.8 482.5,1244.0 484.8,1251.8 487.1,1253.1 489.4,1259.6 491.6,1266.5 493.9,1271.8 496.2,1275.9 498.5,1282.8 500.7,1288.7 503.0,1297.1 505.3,1301.5 507.6,1308.7 509.8,1313.2 512.1,1316.0 514.4,1324.3 516.7,1330.5 518.9,1336.3" fill="none" stroke="none" marker-start="url(#m2_7)" marker-mid="url(#m2_7)" marker-end="url(#m2_7)"/>
<polyline points="293.7,1334.1 296.0,1329.6 298.3,1323.2 300.5,1311.8 302.8,1306.4 305.1,1298.6 307.4,1296.3 309.6,1289.6 311.9,1282.9 314.2,1276.7 316.5,1267.8 318.7,1261.2 321.0,1249.6 323.3,1247.8 325.6,1238.9 327.8,1234.1 330.1,1225.9 332.4,1219.7 334.7,1211.2 336.9,1206.7 339.2,1202.0 341.5,1195.8 343.8,1188.8 346.0,1182.2 348.3,1176.7 350.6,1170.2 352.9,1164.4 355.1,1159.3 357.4,1153.8 359.7,1147.2 362.0,1141.5 364.2,1136.6 366.5,1130.8 368.8,1127.1 371.1,1121.5 373.3,1117.6 375.6,1113.4 377.9,1109.2 380.2,1105.2 382.4,1102.6 384.7,1099.0 387.0,1096.6 389.3,1094.2 391.5,1093.1 393.8,1092.1 396.1,1091.2 398.4,1090.8 400.6,1090.2 402.9,1091.4 405.2,1092.0 407.5,1093.5 409.7,1093.9 412.0,1096.8 414.3,1099.7 416.6,1103.1 418.8,1105.1 421.1,1108.5 423.4,1112.3 425.7,1115.1 427.9,1119.6 430.2,1123.1 432.5,1127.3 434.8,1131.8 437.0,1136.2 439.3,1140.8 441.6,1144.2 443.9,1148.4 446.1,1152.9 448.4,1158.0 450.7,1162.4 453.0,1166.4 455.2,1171.4 457.5,1176.2 459.8,1181.6 462.1,1185.9 464.3,1189.6 466.6,1195.6 468.9,1200.4 471.2,1203.8 473.4,1211.1 475.7,1214.5 478.0,1220.2 480.3,1223.2 482.5,1227.8 484.8,1232.3 487.1,1237.5 489.4,1242.3 491.6,1248.1 493.9,1253.1 496.2,1255.9 498.5,1262.3 500.7,1266.7 503.0,1270.3 505.3,1279.6 507.6,1280.1 509.8,1285.6 512.1,1291.8 514.4,1300.1 516.7,1302.3 518.9,1308.6 521.2,1315.0 523.5,1313.6 525.8,1321.7 528.0,1326.7 530.3,1328.9 532.6,1335.2" fill="none" stroke="none" marker-start="url(#m2_8)" marker-mid="url(#m2_8)" marker-end="url(#m2_8)"/>
<polyline points="271.0,1338.3 273.2,1334.0 275.5,1326.9 277.8,1324.7 280.1,1317.3 282.3,1312.6 284.6,1308.4 286.9,1299.5 289.2,1292.8 291.4,1289.3 293.7,1286.8 296.0,1277.4 298.3,1275.3 300.5,1267.4 302.8,1266.0 305.1,1258.6 307.4,1253.5 309.6,1247.9 311.9,1243.2 314.2,1237.2 316.5,1232.5 318.7,1230.7 321.0,1223.4 323.3,1217.2 325.6,1214.4 327.8,1207.2 330.1,1205.7 332.4,1199.2 334.7,1194.0 336.9,1191.5 339.2,1185.2 341.5,1179.8 343.8,1175.8 346.0,1171.8 348.3,1168.4 350.6,1162.2 352.9,1160.1 355.1,1156.3 357.4,1151.3 359.7,1148.6 362.0,1144.7 364.2,1140.6 366.5,1137.8 368.8,1135.4 371.1,1132.9 373.3,1129.8 375.6,1127.8 377.9,1125.5 380.2,1122.4 382.4,1121.0 384.7,1119.9 387.0,1117.4 389.3,1117.6 391.5,1116.3 393.8,1116.2 396.1,1116.0 398.4,1116.1 400.6,1117.5 402.9,1117.7 405.2,1119.1 407.5,1120.0 409.7,1121.5 412.0,1123.5 414.3,1124.5 416.6,1126.4 418.8,1129.7 421.1,1131.8 423.4,1134.0 425.7,1136.4 427.9,1139.2 430.2,1144.0 432.5,1145.6 434.8,1149.2 437.0,1152.3 439.3,1156.0 441.6,1157.5 443.9,1161.1 446.1,1164.7 448.4,1168.5 450.7,1171.9 453.0,1175.6 455.2,1178.8 457.5,1181.5 459.8,1185.6 462.1,1189.8 464.3,1193.2 466.6,1196.3 468.9,1201.3 471.2,1203.2 473.4,1207.5 475.7,1210.7 478.0,1214.3 480.3,1217.4 482.5,1220.5 484.8,1224.6 487.1,1229.4 489.4,1235.7 491.6,1238.6 493.9,1239.4 496.2,1247.8 498.5,1249.9 500.7,1252.0 503.0,1255.8 505.3,1260.4 507.6,1263.4 509.8,1268.0 512.1,1271.5 514.4,1278.0 516.7,1279.4 518.9,1285.6 521.2,1287.0 523.5,1290.1 525.8,1296.2 528.0,1298.4 530.3,1301.5 532.6,1309.1 534.9,1312.0 537.1,1315.5 539.4,1317.0 541.7,1321.7 544.0,1330.2 546.2,1325.7 548.5,1334.8 550.8,1334.8 553.1,1338.2" fill="none" stroke="none" marker-start="url(#m2_9)" marker-mid="url(#m2_9)" marker-end="url(#m2_9)"/>
</g></g>
<clipPath id="cA3"><rect x="127.6" y="1335.0" width="568.8" height="443"/></clipPath>
<defs><marker id="m3_0" markerUnits="userSpaceOnUse" markerWidth="8" markerHeight="8" refX="4" refY="4" overflow="visible"><circle cx="4" cy="4" r="2.75" fill="#d90000" fill-opacity="0.120" stroke="#d90000" stroke-opacity="0.102" stroke-width="1.3"/></marker><marker id="m3_1" markerUnits="userSpaceOnUse" markerWidth="8" markerHeight="8" refX="4" refY="4" overflow="visible"><circle cx="4" cy="4" r="2.75" fill="#d90000" fill-opacity="0.180" stroke="#d90000" stroke-opacity="0.153" stroke-width="1.3"/></marker><marker id="m3_2" markerUnits="userSpaceOnUse" markerWidth="8" markerHeight="8" refX="4" refY="4" overflow="visible"><circle cx="4" cy="4" r="2.75" fill="#d90000" fill-opacity="0.240" stroke="#d90000" stroke-opacity="0.204" stroke-width="1.3"/></marker><marker id="m3_3" markerUnits="userSpaceOnUse" markerWidth="8" markerHeight="8" refX="4" refY="4" overflow="visible"><circle cx="4" cy="4" r="2.75" fill="#d90000" fill-opacity="0.300" stroke="#d90000" stroke-opacity="0.255" stroke-width="1.3"/></marker><marker id="m3_4" markerUnits="userSpaceOnUse" markerWidth="8" markerHeight="8" refX="4" refY="4" overflow="visible"><circle cx="4" cy="4" r="2.75" fill="#d90000" fill-opacity="0.360" stroke="#d90000" stroke-opacity="0.306" stroke-width="1.3"/></marker><marker id="m3_5" markerUnits="userSpaceOnUse" markerWidth="8" markerHeight="8" refX="4" refY="4" overflow="visible"><circle cx="4" cy="4" r="2.75" fill="#d90000" fill-opacity="0.450" stroke="#d90000" stroke-opacity="0.383" stroke-width="1.3"/></marker><marker id="m3_6" markerUnits="userSpaceOnUse" markerWidth="8" markerHeight="8" refX="4" refY="4" overflow="visible"><circle cx="4" cy="4" r="2.75" fill="#d90000" fill-opacity="0.600" stroke="#d90000" stroke-opacity="0.510" stroke-width="1.3"/></marker><marker id="m3_7" markerUnits="userSpaceOnUse" markerWidth="8" markerHeight="8" refX="4" refY="4" overflow="visible"><circle cx="4" cy="4" r="2.75" fill="#d90000" fill-opacity="0.720" stroke="#d90000" stroke-opacity="0.612" stroke-width="1.3"/></marker><marker id="m3_8" markerUnits="userSpaceOnUse" markerWidth="8" markerHeight="8" refX="4" refY="4" overflow="visible"><circle cx="4" cy="4" r="2.75" fill="#d90000" fill-opacity="0.850" stroke="#d90000" stroke-opacity="0.722" stroke-width="1.3"/></marker><marker id="m3_9" markerUnits="userSpaceOnUse" markerWidth="8" markerHeight="8" refX="4" refY="4" overflow="visible"><circle cx="4" cy="4" r="2.75" fill="#d90000" fill-opacity="0.970" stroke="#d90000" stroke-opacity="0.825" stroke-width="1.3"/></marker></defs>
<g clip-path="url(#cA3)"><g filter="url(#soft)">
<polyline points="391.5,1697.0 393.8,1655.6 396.1,1624.4 398.4,1544.0 400.6,1501.8 402.9,1453.7 405.2,1416.3 407.5,1395.6 409.7,1376.5 412.0,1378.2 414.3,1385.8 416.6,1410.4 418.8,1440.9 421.1,1473.9 423.4,1535.2 425.7,1561.5 427.9,1631.7 430.2,1736.8 432.5,1761.7" fill="none" stroke="none" marker-start="url(#m3_0)" marker-mid="url(#m3_0)" marker-end="url(#m3_0)"/>
<polyline points="387.0,1764.7 389.3,1656.3 391.5,1615.7 393.8,1584.1 396.1,1529.2 398.4,1512.4 400.6,1477.2 402.9,1443.2 405.2,1423.9 407.5,1413.1 409.7,1406.8 412.0,1401.7 414.3,1414.4 416.6,1424.6 418.8,1445.0 421.1,1470.2 423.4,1507.3 425.7,1530.3 427.9,1567.9 430.2,1603.6 432.5,1668.7 434.8,1743.4" fill="none" stroke="none" marker-start="url(#m3_1)" marker-mid="url(#m3_1)" marker-end="url(#m3_1)"/>
<polyline points="384.7,1710.5 387.0,1701.2 389.3,1629.2 391.5,1603.2 393.8,1558.6 396.1,1521.6 398.4,1497.0 400.6,1473.0 402.9,1453.3 405.2,1441.0 407.5,1427.4 409.7,1420.6 412.0,1419.4 414.3,1425.5 416.6,1441.1 418.8,1453.3 421.1,1471.7 423.4,1501.8 425.7,1518.9 427.9,1554.3 430.2,1603.2 432.5,1624.4 434.8,1689.2 437.0,1715.6" fill="none" stroke="none" marker-start="url(#m3_2)" marker-mid="url(#m3_2)" marker-end="url(#m3_2)"/>
<polyline points="380.2,1778.2 382.4,1706.8 384.7,1685.6 387.0,1642.7 389.3,1608.0 391.5,1565.0 393.8,1545.6 396.1,1518.3 398.4,1494.7 400.6,1482.6 402.9,1457.5 405.2,1451.7 407.5,1439.1 409.7,1437.0 412.0,1441.9 414.3,1442.1 416.6,1448.3 418.8,1459.6 421.1,1475.3 423.4,1493.7 425.7,1508.8 427.9,1547.6 430.2,1570.9 432.5,1600.9 434.8,1641.2 437.0,1661.1 439.3,1731.7" fill="none" stroke="none" marker-start="url(#m3_3)" marker-mid="url(#m3_3)" marker-end="url(#m3_3)"/>
<polyline points="373.3,1734.0 375.6,1746.0 377.9,1690.5 380.2,1674.0 382.4,1641.4 384.7,1618.8 387.0,1576.6 389.3,1564.1 391.5,1544.3 393.8,1517.1 396.1,1505.6 398.4,1493.2 400.6,1475.8 402.9,1468.5 405.2,1455.8 407.5,1456.8 409.7,1453.1 412.0,1448.3 414.3,1456.3 416.6,1466.8 418.8,1470.3 421.1,1485.9 423.4,1497.6 425.7,1516.9 427.9,1520.9 430.2,1540.7 432.5,1563.7 434.8,1594.5 437.0,1622.0 439.3,1628.8 441.6,1664.8 443.9,1723.7 446.1,1704.0 448.4,1737.8 450.7,1778.2" fill="none" stroke="none" marker-start="url(#m3_4)" marker-mid="url(#m3_4)" marker-end="url(#m3_4)"/>
<polyline points="355.1,1761.7 357.4,1739.5 359.7,1712.3 362.0,1722.5 364.2,1681.7 366.5,1656.5 368.8,1628.6 371.1,1618.9 373.3,1594.5 375.6,1594.5 377.9,1580.2 380.2,1566.3 382.4,1552.7 384.7,1542.8 387.0,1529.7 389.3,1520.1 391.5,1507.0 393.8,1502.6 396.1,1497.4 398.4,1492.7 400.6,1485.3 402.9,1480.2 405.2,1476.2 407.5,1475.6 409.7,1470.1 412.0,1476.5 414.3,1470.6 416.6,1479.8 418.8,1480.2 421.1,1489.5 423.4,1491.7 425.7,1498.2 427.9,1508.3 430.2,1520.8 432.5,1525.6 434.8,1542.8 437.0,1561.5 439.3,1565.0 441.6,1583.1 443.9,1592.9 446.1,1601.3 448.4,1621.6 450.7,1644.2 453.0,1648.1 455.2,1688.3 457.5,1694.0 459.8,1706.8 462.1,1734.2 464.3,1736.8 466.6,1758.1" fill="none" stroke="none" marker-start="url(#m3_5)" marker-mid="url(#m3_5)" marker-end="url(#m3_5)"/>
<polyline points="323.3,1773.3 325.6,1759.4 327.8,1741.5 330.1,1733.7 332.4,1717.3 334.7,1713.3 336.9,1697.0 339.2,1686.2 341.5,1674.0 343.8,1663.1 346.0,1652.4 348.3,1644.8 350.6,1631.2 352.9,1624.6 355.1,1612.7 357.4,1605.6 359.7,1597.1 362.0,1590.4 364.2,1583.1 366.5,1577.0 368.8,1569.3 371.1,1565.2 373.3,1558.0 375.6,1552.6 377.9,1548.0 380.2,1543.9 382.4,1539.9 384.7,1535.8 387.0,1532.2 389.3,1529.9 391.5,1528.3 393.8,1525.8 396.1,1523.5 398.4,1522.8 400.6,1522.2 402.9,1521.5 405.2,1521.8 407.5,1522.0 409.7,1523.3 412.0,1523.1 414.3,1526.9 416.6,1527.7 418.8,1531.3 421.1,1534.4 423.4,1537.8 425.7,1542.1 427.9,1545.4 430.2,1548.9 432.5,1554.6 434.8,1559.1 437.0,1563.5 439.3,1567.8 441.6,1572.6 443.9,1579.7 446.1,1584.1 448.4,1589.8 450.7,1594.9 453.0,1602.6 455.2,1608.1 457.5,1614.5 459.8,1617.9 462.1,1626.1 464.3,1631.9 466.6,1635.8 468.9,1642.2 471.2,1649.9 473.4,1655.2 475.7,1662.4 478.0,1668.4 480.3,1675.4 482.5,1678.9 484.8,1685.0 487.1,1693.3 489.4,1700.3 491.6,1706.3 493.9,1713.5 496.2,1724.0 498.5,1727.8 500.7,1735.6 503.0,1738.2 505.3,1742.8 507.6,1750.2 509.8,1754.7 512.1,1766.9 514.4,1772.3" fill="none" stroke="none" marker-start="url(#m3_6)" marker-mid="url(#m3_6)" marker-end="url(#m3_6)"/>
<polyline points="296.0,1768.8 298.3,1762.4 300.5,1750.8 302.8,1743.6 305.1,1736.7 307.4,1724.4 309.6,1714.9 311.9,1707.9 314.2,1699.1 316.5,1693.4 318.7,1684.1 321.0,1678.4 323.3,1670.8 325.6,1662.3 327.8,1655.2 330.1,1649.3 332.4,1641.3 334.7,1635.7 336.9,1629.4 339.2,1624.2 341.5,1619.1 343.8,1613.0 346.0,1607.3 348.3,1603.9 350.6,1598.8 352.9,1594.6 355.1,1590.0 357.4,1584.4 359.7,1582.5 362.0,1577.0 364.2,1575.1 366.5,1572.0 368.8,1569.3 371.1,1565.4 373.3,1562.9 375.6,1560.5 377.9,1558.6 380.2,1555.3 382.4,1554.6 384.7,1552.5 387.0,1550.7 389.3,1549.1 391.5,1549.0 393.8,1548.2 396.1,1547.8 398.4,1546.2 400.6,1546.1 402.9,1546.5 405.2,1547.1 407.5,1547.7 409.7,1548.0 412.0,1550.0 414.3,1551.2 416.6,1551.4 418.8,1554.0 421.1,1556.4 423.4,1558.2 425.7,1561.6 427.9,1563.3 430.2,1565.0 432.5,1567.6 434.8,1571.5 437.0,1574.6 439.3,1578.6 441.6,1581.3 443.9,1586.1 446.1,1589.2 448.4,1591.1 450.7,1593.9 453.0,1599.4 455.2,1603.5 457.5,1606.9 459.8,1609.4 462.1,1613.4 464.3,1618.4 466.6,1623.1 468.9,1626.3 471.2,1632.1 473.4,1636.5 475.7,1641.2 478.0,1645.6 480.3,1646.7 482.5,1653.7 484.8,1658.0 487.1,1663.5 489.4,1665.5 491.6,1669.7 493.9,1674.9 496.2,1680.8 498.5,1685.1 500.7,1688.6 503.0,1691.0 505.3,1697.4 507.6,1703.4 509.8,1708.4 512.1,1711.9 514.4,1717.0 516.7,1717.3 518.9,1724.6 521.2,1729.9 523.5,1733.1 525.8,1738.9 528.0,1742.0 530.3,1747.1 532.6,1755.1 534.9,1758.2 537.1,1761.3 539.4,1767.2 541.7,1771.8 544.0,1772.0" fill="none" stroke="none" marker-start="url(#m3_7)" marker-mid="url(#m3_7)" marker-end="url(#m3_7)"/>
<polyline points="268.7,1781.4 271.0,1778.0 273.2,1773.3 275.5,1760.0 277.8,1753.1 280.1,1750.6 282.3,1738.9 284.6,1732.0 286.9,1728.0 289.2,1721.6 291.4,1716.4 293.7,1708.1 296.0,1701.3 298.3,1696.4 300.5,1691.6 302.8,1686.5 305.1,1680.3 307.4,1675.2 309.6,1668.6 311.9,1664.3 314.2,1657.5 316.5,1653.4 318.7,1650.0 321.0,1646.2 323.3,1640.6 325.6,1635.3 327.8,1633.9 330.1,1629.1 332.4,1623.4 334.7,1620.8 336.9,1618.2 339.2,1612.8 341.5,1609.4 343.8,1607.7 346.0,1604.0 348.3,1600.7 350.6,1597.6 352.9,1594.6 355.1,1593.3 357.4,1590.4 359.7,1588.1 362.0,1585.5 364.2,1585.1 366.5,1581.1 368.8,1580.2 371.1,1577.9 373.3,1575.8 375.6,1574.8 377.9,1573.6 380.2,1572.0 382.4,1572.7 384.7,1571.3 387.0,1570.3 389.3,1569.6 391.5,1569.4 393.8,1568.7 396.1,1569.0 398.4,1568.8 400.6,1568.3 402.9,1568.8 405.2,1569.7 407.5,1569.3 409.7,1570.4 412.0,1571.7 414.3,1573.4 416.6,1573.0 418.8,1574.5 421.1,1576.1 423.4,1577.7 425.7,1578.1 427.9,1581.0 430.2,1583.2 432.5,1584.5 434.8,1587.0 437.0,1590.7 439.3,1591.8 441.6,1595.5 443.9,1597.5 446.1,1599.3 448.4,1602.9 450.7,1603.9 453.0,1608.4 455.2,1609.8 457.5,1613.2 459.8,1616.0 462.1,1618.6 464.3,1622.0 466.6,1626.0 468.9,1629.2 471.2,1630.8 473.4,1636.3 475.7,1638.1 478.0,1642.9 480.3,1645.3 482.5,1647.5 484.8,1649.9 487.1,1654.5 489.4,1657.8 491.6,1661.2 493.9,1663.9 496.2,1667.9 498.5,1672.2 500.7,1674.8 503.0,1679.5 505.3,1683.3 507.6,1684.2 509.8,1687.7 512.1,1688.7 514.4,1695.5 516.7,1697.7 518.9,1703.4 521.2,1706.3 523.5,1708.7 525.8,1714.8 528.0,1716.7 530.3,1722.2 532.6,1724.0 534.9,1727.1 537.1,1730.2 539.4,1735.7 541.7,1738.1 544.0,1740.4 546.2,1745.2 548.5,1749.6 550.8,1756.6 553.1,1757.7 555.3,1762.1 557.6,1766.4 559.9,1768.1 562.2,1769.0 564.4,1778.1 566.7,1777.0 569.0,1781.1" fill="none" stroke="none" marker-start="url(#m3_8)" marker-mid="url(#m3_8)" marker-end="url(#m3_8)"/>
<polyline points="232.3,1781.2 234.6,1773.1 236.8,1771.8 239.1,1764.1 241.4,1758.5 243.7,1755.2 245.9,1749.6 248.2,1747.6 250.5,1739.4 252.8,1738.4 255.0,1732.3 257.3,1729.8 259.6,1722.3 261.9,1718.5 264.1,1713.9 266.4,1711.6 268.7,1705.7 271.0,1704.2 273.2,1697.3 275.5,1693.1 277.8,1689.9 280.1,1685.8 282.3,1682.0 284.6,1679.1 286.9,1676.9 289.2,1671.1 291.4,1670.9 293.7,1668.1 296.0,1661.2 298.3,1659.3 300.5,1656.3 302.8,1654.2 305.1,1651.7 307.4,1647.3 309.6,1646.0 311.9,1643.7 314.2,1639.9 316.5,1638.7 318.7,1635.8 321.0,1633.7 323.3,1630.9 325.6,1629.4 327.8,1625.6 330.1,1624.7 332.4,1622.5 334.7,1621.0 336.9,1618.7 339.2,1617.6 341.5,1616.2 343.8,1613.6 346.0,1611.4 348.3,1610.5 350.6,1608.2 352.9,1607.3 355.1,1605.9 357.4,1604.8 359.7,1605.4 362.0,1603.2 364.2,1601.5 366.5,1600.9 368.8,1599.9 371.1,1599.8 373.3,1598.1 375.6,1597.8 377.9,1599.0 380.2,1597.1 382.4,1597.5 384.7,1596.7 387.0,1596.3 389.3,1595.3 391.5,1595.9 393.8,1595.6 396.1,1596.3 398.4,1596.0 400.6,1596.2 402.9,1596.9 405.2,1597.0 407.5,1597.0 409.7,1596.8 412.0,1598.9 414.3,1599.0 416.6,1598.6 418.8,1600.5 421.1,1602.0 423.4,1602.6 425.7,1604.3 427.9,1605.1 430.2,1607.4 432.5,1608.3 434.8,1610.5 437.0,1611.5 439.3,1612.3 441.6,1614.5 443.9,1615.7 446.1,1617.5 448.4,1619.3 450.7,1620.7 453.0,1622.7 455.2,1625.1 457.5,1625.4 459.8,1629.4 462.1,1629.9 464.3,1632.5 466.6,1633.6 468.9,1637.2 471.2,1639.1 473.4,1640.5 475.7,1642.2 478.0,1644.9 480.3,1647.7 482.5,1649.0 484.8,1652.6 487.1,1655.5 489.4,1656.9 491.6,1659.2 493.9,1662.1 496.2,1663.1 498.5,1666.6 500.7,1669.3 503.0,1671.3 505.3,1671.8 507.6,1676.5 509.8,1679.0 512.1,1680.3 514.4,1683.1 516.7,1686.9 518.9,1686.6 521.2,1687.9 523.5,1693.2 525.8,1699.8 528.0,1697.1 530.3,1700.5 532.6,1702.9 534.9,1707.8 537.1,1707.1 539.4,1709.0 541.7,1713.3 544.0,1716.8 546.2,1720.1 548.5,1723.6 550.8,1723.5 553.1,1728.4 555.3,1727.7 557.6,1731.5 559.9,1734.0 562.2,1738.0 564.4,1742.8 566.7,1743.7 569.0,1745.5 571.3,1749.0 573.5,1748.7 575.8,1751.2 578.1,1758.7 580.4,1759.3 582.6,1761.5 584.9,1763.0 587.2,1765.6 589.5,1767.0 591.7,1770.9 594.0,1776.3 596.3,1777.7" fill="none" stroke="none" marker-start="url(#m3_9)" marker-mid="url(#m3_9)" marker-end="url(#m3_9)"/>
</g></g>
<clipPath id="cA4"><rect x="127.6" y="1778.0" width="568.8" height="443"/></clipPath>
<defs><marker id="m4_0" markerUnits="userSpaceOnUse" markerWidth="8" markerHeight="8" refX="4" refY="4" overflow="visible"><circle cx="4" cy="4" r="2.75" fill="#6b007b" fill-opacity="0.120" stroke="#6b007b" stroke-opacity="0.102" stroke-width="1.3"/></marker><marker id="m4_1" markerUnits="userSpaceOnUse" markerWidth="8" markerHeight="8" refX="4" refY="4" overflow="visible"><circle cx="4" cy="4" r="2.75" fill="#6b007b" fill-opacity="0.180" stroke="#6b007b" stroke-opacity="0.153" stroke-width="1.3"/></marker><marker id="m4_2" markerUnits="userSpaceOnUse" markerWidth="8" markerHeight="8" refX="4" refY="4" overflow="visible"><circle cx="4" cy="4" r="2.75" fill="#6b007b" fill-opacity="0.240" stroke="#6b007b" stroke-opacity="0.204" stroke-width="1.3"/></marker><marker id="m4_3" markerUnits="userSpaceOnUse" markerWidth="8" markerHeight="8" refX="4" refY="4" overflow="visible"><circle cx="4" cy="4" r="2.75" fill="#6b007b" fill-opacity="0.300" stroke="#6b007b" stroke-opacity="0.255" stroke-width="1.3"/></marker><marker id="m4_4" markerUnits="userSpaceOnUse" markerWidth="8" markerHeight="8" refX="4" refY="4" overflow="visible"><circle cx="4" cy="4" r="2.75" fill="#6b007b" fill-opacity="0.360" stroke="#6b007b" stroke-opacity="0.306" stroke-width="1.3"/></marker><marker id="m4_5" markerUnits="userSpaceOnUse" markerWidth="8" markerHeight="8" refX="4" refY="4" overflow="visible"><circle cx="4" cy="4" r="2.75" fill="#6b007b" fill-opacity="0.450" stroke="#6b007b" stroke-opacity="0.383" stroke-width="1.3"/></marker><marker id="m4_6" markerUnits="userSpaceOnUse" markerWidth="8" markerHeight="8" refX="4" refY="4" overflow="visible"><circle cx="4" cy="4" r="2.75" fill="#6b007b" fill-opacity="0.600" stroke="#6b007b" stroke-opacity="0.510" stroke-width="1.3"/></marker><marker id="m4_7" markerUnits="userSpaceOnUse" markerWidth="8" markerHeight="8" refX="4" refY="4" overflow="visible"><circle cx="4" cy="4" r="2.75" fill="#6b007b" fill-opacity="0.720" stroke="#6b007b" stroke-opacity="0.612" stroke-width="1.3"/></marker><marker id="m4_8" markerUnits="userSpaceOnUse" markerWidth="8" markerHeight="8" refX="4" refY="4" overflow="visible"><circle cx="4" cy="4" r="2.75" fill="#6b007b" fill-opacity="0.850" stroke="#6b007b" stroke-opacity="0.722" stroke-width="1.3"/></marker><marker id="m4_9" markerUnits="userSpaceOnUse" markerWidth="8" markerHeight="8" refX="4" refY="4" overflow="visible"><circle cx="4" cy="4" r="2.75" fill="#6b007b" fill-opacity="0.970" stroke="#6b007b" stroke-opacity="0.825" stroke-width="1.3"/></marker></defs>
<g clip-path="url(#cA4)"><g filter="url(#soft)">
<polyline points="391.5,2191.2 393.8,2134.1 396.1,2049.1 398.4,1993.5 400.6,1944.8 402.9,1890.8 405.2,1855.8 407.5,1833.5 409.7,1817.6 412.0,1819.7 414.3,1823.8 416.6,1852.6 418.8,1880.1 421.1,1910.9 423.4,1967.9 425.7,2028.8 427.9,2077.3 430.2,2161.2 432.5,2204.7" fill="none" stroke="none" marker-start="url(#m4_0)" marker-mid="url(#m4_0)" marker-end="url(#m4_0)"/>
<polyline points="387.0,2221.2 389.3,2145.1 391.5,2140.0 393.8,2063.8 396.1,2017.1 398.4,1960.9 400.6,1926.5 402.9,1898.3 405.2,1870.4 407.5,1858.5 409.7,1843.2 412.0,1845.2 414.3,1850.2 416.6,1868.5 418.8,1892.5 421.1,1922.5 423.4,1948.8 425.7,1999.7 427.9,2055.5 430.2,2099.3 432.5,2186.4 434.8,2196.3" fill="none" stroke="none" marker-start="url(#m4_1)" marker-mid="url(#m4_1)" marker-end="url(#m4_1)"/>
<polyline points="387.0,2153.5 389.3,2115.7 391.5,2069.0 393.8,2028.8 396.1,1980.8 398.4,1959.7 400.6,1930.0 402.9,1896.9 405.2,1885.7 407.5,1874.8 409.7,1862.2 412.0,1864.8 414.3,1867.4 416.6,1875.8 418.8,1909.0 421.1,1924.2 423.4,1955.9 425.7,1988.3 427.9,2011.7 430.2,2065.9 432.5,2132.2 434.8,2209.8" fill="none" stroke="none" marker-start="url(#m4_2)" marker-mid="url(#m4_2)" marker-end="url(#m4_2)"/>
<polyline points="382.4,2185.3 384.7,2128.6 387.0,2095.2 389.3,2058.7 391.5,2022.8 393.8,2005.5 396.1,1968.2 398.4,1948.2 400.6,1921.5 402.9,1907.1 405.2,1892.8 407.5,1877.5 409.7,1873.3 412.0,1872.7 414.3,1881.6 416.6,1893.4 418.8,1902.5 421.1,1928.9 423.4,1942.0 425.7,1970.0 427.9,1996.5 430.2,2015.6 432.5,2044.7 434.8,2090.3 437.0,2149.8 439.3,2179.8" fill="none" stroke="none" marker-start="url(#m4_3)" marker-mid="url(#m4_3)" marker-end="url(#m4_3)"/>
<polyline points="368.8,2221.2 371.1,2180.8 373.3,2193.5 375.6,2120.4 377.9,2115.4 380.2,2079.3 382.4,2059.5 384.7,2040.3 387.0,2010.9 389.3,1993.6 391.5,1979.3 393.8,1964.7 396.1,1936.1 398.4,1926.6 400.6,1916.7 402.9,1908.6 405.2,1898.7 407.5,1893.8 409.7,1891.0 412.0,1895.7 414.3,1900.4 416.6,1906.1 418.8,1911.2 421.1,1920.1 423.4,1926.6 425.7,1951.2 427.9,1958.5 430.2,1975.3 432.5,2003.1 434.8,2014.5 437.0,2054.4 439.3,2069.1 441.6,2098.3 443.9,2118.7 446.1,2131.5 448.4,2152.1" fill="none" stroke="none" marker-start="url(#m4_4)" marker-mid="url(#m4_4)" marker-end="url(#m4_4)"/>
<polyline points="350.6,2208.5 352.9,2191.2 355.1,2208.5 357.4,2179.8 359.7,2135.5 362.0,2135.5 364.2,2096.9 366.5,2069.2 368.8,2069.8 371.1,2050.5 373.3,2034.5 375.6,2033.0 377.9,2012.0 380.2,1996.8 382.4,1988.0 384.7,1972.4 387.0,1969.0 389.3,1956.0 391.5,1948.8 393.8,1948.0 396.1,1940.9 398.4,1934.2 400.6,1924.0 402.9,1921.5 405.2,1917.8 407.5,1917.7 409.7,1916.6 412.0,1919.2 414.3,1923.3 416.6,1922.8 418.8,1931.4 421.1,1928.5 423.4,1935.4 425.7,1945.6 427.9,1948.4 430.2,1964.1 432.5,1967.4 434.8,1979.1 437.0,1987.2 439.3,2008.5 441.6,2019.7 443.9,2030.1 446.1,2031.9 448.4,2052.8 450.7,2073.5 453.0,2104.1 455.2,2105.0 457.5,2113.1 459.8,2146.4 462.1,2172.3 464.3,2197.7 466.6,2201.1" fill="none" stroke="none" marker-start="url(#m4_5)" marker-mid="url(#m4_5)" marker-end="url(#m4_5)"/>
<polyline points="305.1,2214.5 307.4,2202.7 309.6,2194.3 311.9,2183.7 314.2,2174.6 316.5,2162.9 318.7,2150.6 321.0,2145.5 323.3,2137.1 325.6,2126.8 327.8,2117.1 330.1,2110.2 332.4,2103.0 334.7,2093.1 336.9,2086.5 339.2,2078.1 341.5,2073.2 343.8,2064.9 346.0,2057.3 348.3,2050.6 350.6,2046.2 352.9,2041.6 355.1,2037.0 357.4,2030.1 359.7,2024.7 362.0,2020.9 364.2,2016.2 366.5,2010.7 368.8,2007.5 371.1,2001.6 373.3,1999.5 375.6,1995.9 377.9,1992.7 380.2,1990.0 382.4,1986.4 384.7,1983.5 387.0,1981.8 389.3,1979.9 391.5,1979.4 393.8,1978.0 396.1,1976.3 398.4,1974.4 400.6,1974.7 402.9,1977.5 405.2,1975.4 407.5,1977.2 409.7,1978.7 412.0,1979.2 414.3,1981.7 416.6,1983.3 418.8,1984.5 421.1,1987.7 423.4,1990.5 425.7,1992.2 427.9,1995.9 430.2,1998.4 432.5,2001.3 434.8,2005.2 437.0,2008.8 439.3,2011.2 441.6,2016.2 443.9,2019.0 446.1,2024.7 448.4,2028.1 450.7,2033.3 453.0,2038.2 455.2,2042.9 457.5,2048.0 459.8,2051.3 462.1,2058.1 464.3,2063.0 466.6,2068.4 468.9,2074.9 471.2,2081.9 473.4,2086.9 475.7,2094.8 478.0,2101.0 480.3,2107.7 482.5,2115.1 484.8,2122.7 487.1,2130.4 489.4,2136.1 491.6,2143.6 493.9,2153.7 496.2,2162.6 498.5,2168.8 500.7,2180.0 503.0,2186.4 505.3,2190.2 507.6,2206.2 509.8,2211.7 512.1,2224.1" fill="none" stroke="none" marker-start="url(#m4_6)" marker-mid="url(#m4_6)" marker-end="url(#m4_6)"/>
<polyline points="268.7,2224.1 271.0,2216.7 273.2,2213.5 275.5,2208.3 277.8,2199.5 280.1,2192.9 282.3,2188.0 284.6,2178.8 286.9,2171.8 289.2,2161.8 291.4,2160.1 293.7,2149.5 296.0,2147.7 298.3,2140.4 300.5,2133.4 302.8,2127.7 305.1,2123.1 307.4,2116.5 309.6,2111.6 311.9,2108.2 314.2,2101.5 316.5,2096.2 318.7,2090.7 321.0,2087.6 323.3,2081.4 325.6,2077.8 327.8,2074.3 330.1,2068.8 332.4,2065.0 334.7,2059.8 336.9,2057.6 339.2,2055.0 341.5,2049.6 343.8,2046.9 346.0,2043.0 348.3,2040.3 350.6,2037.5 352.9,2033.6 355.1,2031.5 357.4,2030.1 359.7,2025.4 362.0,2024.1 364.2,2021.6 366.5,2020.4 368.8,2018.4 371.1,2016.1 373.3,2015.2 375.6,2013.9 377.9,2010.7 380.2,2010.7 382.4,2008.8 384.7,2008.1 387.0,2005.4 389.3,2005.4 391.5,2005.0 393.8,2004.9 396.1,2003.5 398.4,2003.8 400.6,2004.2 402.9,2004.0 405.2,2005.6 407.5,2007.5 409.7,2008.0 412.0,2009.1 414.3,2009.5 416.6,2011.2 418.8,2013.3 421.1,2015.0 423.4,2016.3 425.7,2016.8 427.9,2018.6 430.2,2020.5 432.5,2023.5 434.8,2024.6 437.0,2028.5 439.3,2029.0 441.6,2031.0 443.9,2032.7 446.1,2036.7 448.4,2038.7 450.7,2041.1 453.0,2043.8 455.2,2047.6 457.5,2050.2 459.8,2054.6 462.1,2055.9 464.3,2060.9 466.6,2061.6 468.9,2067.6 471.2,2071.4 473.4,2074.0 475.7,2077.0 478.0,2080.6 480.3,2085.5 482.5,2089.5 484.8,2090.4 487.1,2097.7 489.4,2101.6 491.6,2106.0 493.9,2108.9 496.2,2114.8 498.5,2119.1 500.7,2124.1 503.0,2130.0 505.3,2134.3 507.6,2137.3 509.8,2143.4 512.1,2151.4 514.4,2150.6 516.7,2159.5 518.9,2165.3 521.2,2171.9 523.5,2178.4 525.8,2181.2 528.0,2189.6 530.3,2187.8 532.6,2198.0 534.9,2207.1 537.1,2212.2 539.4,2218.8" fill="none" stroke="none" marker-start="url(#m4_7)" marker-mid="url(#m4_7)" marker-end="url(#m4_7)"/>
<polyline points="245.9,2216.7 248.2,2212.2 250.5,2206.8 252.8,2206.0 255.0,2194.5 257.3,2192.1 259.6,2187.6 261.9,2182.6 264.1,2178.6 266.4,2174.1 268.7,2166.0 271.0,2164.1 273.2,2157.8 275.5,2152.4 277.8,2146.6 280.1,2143.5 282.3,2140.3 284.6,2136.7 286.9,2131.1 289.2,2124.7 291.4,2123.2 293.7,2117.4 296.0,2112.6 298.3,2112.2 300.5,2106.7 302.8,2102.1 305.1,2100.3 307.4,2097.0 309.6,2091.9 311.9,2089.3 314.2,2086.3 316.5,2082.9 318.7,2079.7 321.0,2075.8 323.3,2074.0 325.6,2070.8 327.8,2068.6 330.1,2066.0 332.4,2062.9 334.7,2059.1 336.9,2058.4 339.2,2054.6 341.5,2053.4 343.8,2050.5 346.0,2047.3 348.3,2047.2 350.6,2045.4 352.9,2043.0 355.1,2040.8 357.4,2039.9 359.7,2038.3 362.0,2036.9 364.2,2034.7 366.5,2033.9 368.8,2031.9 371.1,2031.6 373.3,2031.7 375.6,2030.7 377.9,2028.8 380.2,2029.8 382.4,2026.3 384.7,2027.0 387.0,2025.2 389.3,2026.3 391.5,2025.4 393.8,2025.3 396.1,2025.7 398.4,2026.9 400.6,2026.5 402.9,2026.2 405.2,2028.1 407.5,2028.9 409.7,2029.3 412.0,2030.2 414.3,2030.4 416.6,2030.7 418.8,2033.2 421.1,2034.0 423.4,2036.2 425.7,2036.8 427.9,2037.9 430.2,2038.8 432.5,2042.2 434.8,2041.3 437.0,2045.2 439.3,2044.9 441.6,2046.6 443.9,2048.4 446.1,2050.3 448.4,2052.9 450.7,2054.6 453.0,2057.0 455.2,2058.5 457.5,2060.1 459.8,2063.0 462.1,2065.6 464.3,2068.4 466.6,2071.1 468.9,2072.6 471.2,2075.6 473.4,2075.9 475.7,2080.0 478.0,2083.9 480.3,2084.3 482.5,2087.9 484.8,2091.1 487.1,2094.1 489.4,2095.7 491.6,2100.3 493.9,2104.2 496.2,2107.4 498.5,2109.6 500.7,2114.3 503.0,2115.1 505.3,2119.3 507.6,2123.1 509.8,2125.2 512.1,2131.2 514.4,2132.6 516.7,2138.2 518.9,2142.1 521.2,2143.5 523.5,2146.4 525.8,2151.8 528.0,2157.5 530.3,2158.5 532.6,2164.5 534.9,2166.3 537.1,2173.5 539.4,2174.9 541.7,2184.4 544.0,2186.0 546.2,2186.4 548.5,2195.1 550.8,2197.3 553.1,2205.5 555.3,2211.6 557.6,2214.4 559.9,2219.4 562.2,2220.7" fill="none" stroke="none" marker-start="url(#m4_8)" marker-mid="url(#m4_8)" marker-end="url(#m4_8)"/>
<polyline points="205.0,2220.7 207.3,2214.4 209.5,2211.0 211.8,2213.2 214.1,2204.2 216.4,2205.8 218.6,2195.4 220.9,2194.8 223.2,2193.0 225.5,2187.0 227.7,2182.5 230.0,2181.0 232.3,2177.7 234.6,2174.8 236.8,2168.9 239.1,2167.3 241.4,2163.0 243.7,2162.2 245.9,2155.4 248.2,2153.1 250.5,2152.3 252.8,2149.2 255.0,2145.5 257.3,2143.1 259.6,2140.4 261.9,2137.0 264.1,2134.8 266.4,2132.7 268.7,2129.7 271.0,2127.5 273.2,2123.8 275.5,2121.3 277.8,2121.1 280.1,2118.1 282.3,2113.1 284.6,2110.9 286.9,2109.8 289.2,2107.6 291.4,2104.5 293.7,2103.4 296.0,2101.5 298.3,2097.9 300.5,2096.1 302.8,2095.8 305.1,2093.2 307.4,2091.2 309.6,2090.0 311.9,2088.1 314.2,2085.6 316.5,2083.7 318.7,2082.3 321.0,2081.2 323.3,2079.6 325.6,2077.7 327.8,2076.4 330.1,2075.1 332.4,2075.2 334.7,2072.2 336.9,2069.9 339.2,2071.3 341.5,2068.9 343.8,2067.2 346.0,2066.6 348.3,2067.2 350.6,2064.8 352.9,2063.5 355.1,2064.3 357.4,2062.4 359.7,2062.8 362.0,2061.7 364.2,2060.4 366.5,2059.6 368.8,2057.5 371.1,2058.2 373.3,2057.4 375.6,2056.6 377.9,2057.0 380.2,2057.0 382.4,2056.6 384.7,2054.9 387.0,2056.7 389.3,2056.6 391.5,2056.3 393.8,2057.3 396.1,2056.0 398.4,2058.2 400.6,2057.4 402.9,2058.2 405.2,2059.8 407.5,2059.6 409.7,2060.5 412.0,2060.8 414.3,2060.8 416.6,2061.6 418.8,2064.0 421.1,2063.4 423.4,2065.7 425.7,2065.4 427.9,2066.0 430.2,2067.0 432.5,2067.2 434.8,2069.2 437.0,2069.3 439.3,2072.5 441.6,2071.1 443.9,2074.3 446.1,2073.9 448.4,2076.5 450.7,2077.2 453.0,2080.0 455.2,2080.9 457.5,2080.5 459.8,2082.0 462.1,2084.1 464.3,2084.8 466.6,2087.2 468.9,2088.4 471.2,2089.2 473.4,2093.2 475.7,2094.1 478.0,2094.9 480.3,2097.5 482.5,2096.5 484.8,2101.0 487.1,2101.6 489.4,2104.0 491.6,2105.1 493.9,2106.4 496.2,2107.3 498.5,2111.0 500.7,2111.9 503.0,2115.4 505.3,2118.2 507.6,2118.6 509.8,2122.7 512.1,2124.5 514.4,2126.8 516.7,2128.4 518.9,2131.7 521.2,2132.1 523.5,2136.8 525.8,2137.0 528.0,2140.2 530.3,2143.4 532.6,2143.3 534.9,2146.8 537.1,2149.5 539.4,2151.2 541.7,2154.6 544.0,2157.8 546.2,2160.2 548.5,2161.7 550.8,2165.7 553.1,2167.3 555.3,2167.6 557.6,2175.2 559.9,2175.6 562.2,2180.9 564.4,2181.4 566.7,2184.2 569.0,2187.4 571.3,2193.2 573.5,2192.8 575.8,2195.9 578.1,2200.4 580.4,2204.6 582.6,2205.8 584.9,2209.8 587.2,2212.5 589.5,2217.2 591.7,2222.9 594.0,2223.7" fill="none" stroke="none" marker-start="url(#m4_9)" marker-mid="url(#m4_9)" marker-end="url(#m4_9)"/>
</g></g>
<clipPath id="clipB"><rect x="980.7" y="6.0" width="568.0999999999999" height="442.7"/></clipPath>
<g clip-path="url(#clipB)">
<circle cx="1005.8" cy="240.4" r="7.8" fill="#0000f0" fill-opacity="0.6" stroke="#0000f0" stroke-opacity="0.65" stroke-width="2.2"/>
<circle cx="1077.3" cy="196.3" r="7.8" fill="#0000f0" fill-opacity="0.6" stroke="#0000f0" stroke-opacity="0.65" stroke-width="2.2"/>
<circle cx="1119.2" cy="177" r="7.8" fill="#0000f0" fill-opacity="0.6" stroke="#0000f0" stroke-opacity="0.65" stroke-width="2.2"/>
<circle cx="1171.9" cy="151.9" r="7.8" fill="#0000f0" fill-opacity="0.6" stroke="#0000f0" stroke-opacity="0.65" stroke-width="2.2"/>
<circle cx="1243.4" cy="124.2" r="7.8" fill="#0000f0" fill-opacity="0.6" stroke="#0000f0" stroke-opacity="0.65" stroke-width="2.2"/>
<circle cx="1314.9" cy="99.3" r="7.8" fill="#0000f0" fill-opacity="0.6" stroke="#0000f0" stroke-opacity="0.65" stroke-width="2.2"/>
<circle cx="1409.5" cy="72.1" r="7.8" fill="#0000f0" fill-opacity="0.6" stroke="#0000f0" stroke-opacity="0.65" stroke-width="2.2"/>
<circle cx="1451.3" cy="54" r="7.8" fill="#0000f0" fill-opacity="0.6" stroke="#0000f0" stroke-opacity="0.65" stroke-width="2.2"/>
<circle cx="1481" cy="43.9" r="7.8" fill="#0000f0" fill-opacity="0.6" stroke="#0000f0" stroke-opacity="0.65" stroke-width="2.2"/>
<circle cx="1522.8" cy="26" r="7.8" fill="#0000f0" fill-opacity="0.6" stroke="#0000f0" stroke-opacity="0.65" stroke-width="2.2"/>
<circle cx="1005.8" cy="389.1" r="7.8" fill="#e8a22a" fill-opacity="0.6" stroke="#e8a22a" stroke-opacity="0.65" stroke-width="2.2"/>
<circle cx="1077.3" cy="362.3" r="7.8" fill="#e8a22a" fill-opacity="0.6" stroke="#e8a22a" stroke-opacity="0.65" stroke-width="2.2"/>
<circle cx="1119.2" cy="347.6" r="7.8" fill="#e8a22a" fill-opacity="0.6" stroke="#e8a22a" stroke-opacity="0.65" stroke-width="2.2"/>
<circle cx="1171.9" cy="331.8" r="7.8" fill="#e8a22a" fill-opacity="0.6" stroke="#e8a22a" stroke-opacity="0.65" stroke-width="2.2"/>
<circle cx="1243.4" cy="311.5" r="7.8" fill="#e8a22a" fill-opacity="0.6" stroke="#e8a22a" stroke-opacity="0.65" stroke-width="2.2"/>
<circle cx="1409.5" cy="255.1" r="7.8" fill="#e8a22a" fill-opacity="0.6" stroke="#e8a22a" stroke-opacity="0.65" stroke-width="2.2"/>
<circle cx="1451.3" cy="237.3" r="7.8" fill="#e8a22a" fill-opacity="0.6" stroke="#e8a22a" stroke-opacity="0.65" stroke-width="2.2"/>
<circle cx="1481" cy="224" r="7.8" fill="#e8a22a" fill-opacity="0.6" stroke="#e8a22a" stroke-opacity="0.65" stroke-width="2.2"/>
<circle cx="1522.8" cy="207.6" r="7.8" fill="#e8a22a" fill-opacity="0.6" stroke="#e8a22a" stroke-opacity="0.65" stroke-width="2.2"/>
<circle cx="1005.8" cy="408.4" r="7.8" fill="#47801f" fill-opacity="0.6" stroke="#47801f" stroke-opacity="0.65" stroke-width="2.2"/>
<circle cx="1077.3" cy="387.3" r="7.8" fill="#47801f" fill-opacity="0.6" stroke="#47801f" stroke-opacity="0.65" stroke-width="2.2"/>
<circle cx="1119.2" cy="372.5" r="7.8" fill="#47801f" fill-opacity="0.6" stroke="#47801f" stroke-opacity="0.65" stroke-width="2.2"/>
<circle cx="1171.9" cy="359.6" r="7.8" fill="#47801f" fill-opacity="0.6" stroke="#47801f" stroke-opacity="0.65" stroke-width="2.2"/>
<circle cx="1243.4" cy="341" r="7.8" fill="#47801f" fill-opacity="0.6" stroke="#47801f" stroke-opacity="0.65" stroke-width="2.2"/>
<circle cx="1314.9" cy="313.7" r="7.8" fill="#47801f" fill-opacity="0.6" stroke="#47801f" stroke-opacity="0.65" stroke-width="2.2"/>
<circle cx="1409.5" cy="269.9" r="7.8" fill="#47801f" fill-opacity="0.6" stroke="#47801f" stroke-opacity="0.65" stroke-width="2.2"/>
<circle cx="1451.3" cy="246.3" r="7.8" fill="#47801f" fill-opacity="0.6" stroke="#47801f" stroke-opacity="0.65" stroke-width="2.2"/>
<circle cx="1481" cy="229" r="7.8" fill="#47801f" fill-opacity="0.6" stroke="#47801f" stroke-opacity="0.65" stroke-width="2.2"/>
<circle cx="1522.8" cy="203.5" r="7.8" fill="#47801f" fill-opacity="0.6" stroke="#47801f" stroke-opacity="0.65" stroke-width="2.2"/>
<circle cx="1005.8" cy="413.2" r="7.8" fill="#d90000" fill-opacity="0.6" stroke="#d90000" stroke-opacity="0.65" stroke-width="2.2"/>
<circle cx="1077.3" cy="389.1" r="7.8" fill="#d90000" fill-opacity="0.6" stroke="#d90000" stroke-opacity="0.65" stroke-width="2.2"/>
<circle cx="1119.2" cy="374.3" r="7.8" fill="#d90000" fill-opacity="0.6" stroke="#d90000" stroke-opacity="0.65" stroke-width="2.2"/>
<circle cx="1171.9" cy="359.6" r="7.8" fill="#d90000" fill-opacity="0.6" stroke="#d90000" stroke-opacity="0.65" stroke-width="2.2"/>
<circle cx="1243.4" cy="336.6" r="7.8" fill="#d90000" fill-opacity="0.6" stroke="#d90000" stroke-opacity="0.65" stroke-width="2.2"/>
<circle cx="1314.9" cy="293" r="7.8" fill="#d90000" fill-opacity="0.6" stroke="#d90000" stroke-opacity="0.65" stroke-width="2.2"/>
<circle cx="1409.5" cy="232.1" r="7.8" fill="#d90000" fill-opacity="0.6" stroke="#d90000" stroke-opacity="0.65" stroke-width="2.2"/>
<circle cx="1451.3" cy="198.1" r="7.8" fill="#d90000" fill-opacity="0.6" stroke="#d90000" stroke-opacity="0.65" stroke-width="2.2"/>
<circle cx="1481" cy="174.2" r="7.8" fill="#d90000" fill-opacity="0.6" stroke="#d90000" stroke-opacity="0.65" stroke-width="2.2"/>
<circle cx="1522.8" cy="142.7" r="7.8" fill="#d90000" fill-opacity="0.6" stroke="#d90000" stroke-opacity="0.65" stroke-width="2.2"/>
<circle cx="1005.8" cy="417.8" r="7.8" fill="#6b007b" fill-opacity="0.6" stroke="#6b007b" stroke-opacity="0.65" stroke-width="2.2"/>
<circle cx="1077.3" cy="397.4" r="7.8" fill="#6b007b" fill-opacity="0.6" stroke="#6b007b" stroke-opacity="0.65" stroke-width="2.2"/>
<circle cx="1119.2" cy="385.4" r="7.8" fill="#6b007b" fill-opacity="0.6" stroke="#6b007b" stroke-opacity="0.65" stroke-width="2.2"/>
<circle cx="1171.9" cy="367.9" r="7.8" fill="#6b007b" fill-opacity="0.6" stroke="#6b007b" stroke-opacity="0.65" stroke-width="2.2"/>
<circle cx="1243.4" cy="332.7" r="7.8" fill="#6b007b" fill-opacity="0.6" stroke="#6b007b" stroke-opacity="0.65" stroke-width="2.2"/>
<circle cx="1314.9" cy="288.2" r="7.8" fill="#6b007b" fill-opacity="0.6" stroke="#6b007b" stroke-opacity="0.65" stroke-width="2.2"/>
<circle cx="1409.5" cy="214.8" r="7.8" fill="#6b007b" fill-opacity="0.6" stroke="#6b007b" stroke-opacity="0.65" stroke-width="2.2"/>
<circle cx="1451.3" cy="180.6" r="7.8" fill="#6b007b" fill-opacity="0.6" stroke="#6b007b" stroke-opacity="0.65" stroke-width="2.2"/>
<circle cx="1481" cy="158.4" r="7.8" fill="#6b007b" fill-opacity="0.6" stroke="#6b007b" stroke-opacity="0.65" stroke-width="2.2"/>
<circle cx="1522.8" cy="127.1" r="7.8" fill="#6b007b" fill-opacity="0.6" stroke="#6b007b" stroke-opacity="0.65" stroke-width="2.2"/>
<line x1="1005.8" y1="220.5" x2="1522.8" y2="26" stroke="#0000f0" stroke-width="3.6" stroke-linecap="butt"/>
<line x1="1005.8" y1="383.4" x2="1243.4" y2="310.8" stroke="#e8a22a" stroke-width="3.6" stroke-linecap="butt"/>
<line x1="1243.4" y1="327" x2="1522.8" y2="207.6" stroke="#e8a22a" stroke-width="3.6" stroke-linecap="butt"/>
<line x1="1005.8" y1="410.2" x2="1243.4" y2="335.4" stroke="#47801f" stroke-width="3.6" stroke-linecap="butt"/>
<line x1="1243.4" y1="366.8" x2="1522.8" y2="203.5" stroke="#47801f" stroke-width="3.6" stroke-linecap="butt"/>
<line x1="1005.8" y1="419" x2="1243.4" y2="332.9" stroke="#d90000" stroke-width="3.6" stroke-linecap="butt"/>
<line x1="1243.4" y1="359.7" x2="1522.8" y2="142.7" stroke="#d90000" stroke-width="3.6" stroke-linecap="butt"/>
<line x1="1005.8" y1="429.1" x2="1243.4" y2="334.7" stroke="#6b007b" stroke-width="3.6" stroke-linecap="butt"/>
<line x1="1243.4" y1="336.6" x2="1522.8" y2="127.1" stroke="#6b007b" stroke-width="3.6" stroke-linecap="butt"/>
</g>
<path d="M1164.7 92.8 H1257 L1164.7 127.9 Z" fill="none" stroke="#111" stroke-width="1.1"/>
<text x="1153.5" y="127" font-size="30.5" text-anchor="end"><tspan font-style="oblique">α</tspan> = 1</text>
<clipPath id="clipC"><rect x="980.7" y="596.1" width="568.0999999999999" height="442.9"/></clipPath>
<g clip-path="url(#clipC)">
<line x1="980.7" y1="846" x2="1543" y2="846" stroke="#000" stroke-width="3.9" stroke-dasharray="3.9 6.2"/>
<line x1="1005.8" y1="938.7" x2="1005.8" y2="969.5" stroke="#0000f0" stroke-width="2.4"/>
<line x1="980" y1="938.7" x2="1031.6" y2="938.7" stroke="#0000f0" stroke-width="2.4"/>
<line x1="980" y1="969.5" x2="1031.6" y2="969.5" stroke="#0000f0" stroke-width="2.4"/>
<path d="M1005.8 940.5 L1002.8 949.7 L993.2 949.7 L1001 955.3 L998 964.4 L1005.8 958.8 L1013.6 964.4 L1010.6 955.3 L1018.4 949.7 L1008.8 949.7 Z" fill="#0000f0" stroke="#0000f0" stroke-width="1.6" stroke-linejoin="miter"/>
<line x1="1134.9" y1="996.7" x2="1134.9" y2="1018.9" stroke="#e8a22a" stroke-width="2.4"/>
<line x1="1109.1" y1="996.7" x2="1160.7" y2="996.7" stroke="#e8a22a" stroke-width="2.4"/>
<line x1="1109.1" y1="1018.9" x2="1160.7" y2="1018.9" stroke="#e8a22a" stroke-width="2.4"/>
<path d="M1134.9 995.2 L1131.9 1004.3 L1122.3 1004.3 L1130.1 1010 L1127.1 1019.1 L1134.9 1013.4 L1142.7 1019.1 L1139.7 1010 L1147.5 1004.3 L1137.9 1004.3 Z" fill="#e8a22a" stroke="#e8a22a" stroke-width="1.6" stroke-linejoin="miter"/>
<line x1="1134.9" y1="873.9" x2="1134.9" y2="920.1" stroke="#e8a22a" stroke-width="2.4"/>
<line x1="1109.1" y1="873.9" x2="1160.7" y2="873.9" stroke="#e8a22a" stroke-width="2.4"/>
<line x1="1109.1" y1="920.1" x2="1160.7" y2="920.1" stroke="#e8a22a" stroke-width="2.4"/>
<path d="M1134.9 883.8 L1148.5 911 L1121.3 911 Z" fill="#e8a22a" stroke="#e8a22a" stroke-width="1.4"/>
<line x1="1264" y1="1006" x2="1264" y2="1017.7" stroke="#47801f" stroke-width="2.4"/>
<line x1="1238.2" y1="1006" x2="1289.8" y2="1006" stroke="#47801f" stroke-width="2.4"/>
<line x1="1238.2" y1="1017.7" x2="1289.8" y2="1017.7" stroke="#47801f" stroke-width="2.4"/>
<path d="M1264 998.4 L1261 1007.6 L1251.4 1007.6 L1259.2 1013.2 L1256.2 1022.3 L1264 1016.7 L1271.8 1022.3 L1268.8 1013.2 L1276.6 1007.6 L1267 1007.6 Z" fill="#47801f" stroke="#47801f" stroke-width="1.6" stroke-linejoin="miter"/>
<line x1="1264" y1="769.5" x2="1264" y2="798.6" stroke="#47801f" stroke-width="2.4"/>
<line x1="1238.2" y1="769.5" x2="1289.8" y2="769.5" stroke="#47801f" stroke-width="2.4"/>
<line x1="1238.2" y1="798.6" x2="1289.8" y2="798.6" stroke="#47801f" stroke-width="2.4"/>
<path d="M1264 771.2 L1277.6 798.4 L1250.4 798.4 Z" fill="#47801f" stroke="#47801f" stroke-width="1.4"/>
<line x1="1393.1" y1="955.4" x2="1393.1" y2="972" stroke="#d90000" stroke-width="2.4"/>
<line x1="1367.3" y1="955.4" x2="1418.9" y2="955.4" stroke="#d90000" stroke-width="2.4"/>
<line x1="1367.3" y1="972" x2="1418.9" y2="972" stroke="#d90000" stroke-width="2.4"/>
<path d="M1393.1 949.8 L1390.1 959 L1380.5 959 L1388.3 964.6 L1385.3 973.7 L1393.1 968.1 L1400.9 973.7 L1397.9 964.6 L1405.7 959 L1396.1 959 Z" fill="#d90000" stroke="#d90000" stroke-width="1.6" stroke-linejoin="miter"/>
<line x1="1393.1" y1="616.4" x2="1393.1" y2="646.3" stroke="#d90000" stroke-width="2.4"/>
<line x1="1367.3" y1="616.4" x2="1418.9" y2="616.4" stroke="#d90000" stroke-width="2.4"/>
<line x1="1367.3" y1="646.3" x2="1418.9" y2="646.3" stroke="#d90000" stroke-width="2.4"/>
<path d="M1393.1 618.6 L1406.7 645.8 L1379.5 645.8 Z" fill="#d90000" stroke="#d90000" stroke-width="1.4"/>
<line x1="1522.2" y1="916.5" x2="1522.2" y2="947.7" stroke="#6b007b" stroke-width="2.4"/>
<line x1="1496.4" y1="916.5" x2="1548" y2="916.5" stroke="#6b007b" stroke-width="2.4"/>
<line x1="1496.4" y1="947.7" x2="1548" y2="947.7" stroke="#6b007b" stroke-width="2.4"/>
<path d="M1522.2 919.1 L1519.2 928.2 L1509.6 928.2 L1517.4 933.8 L1514.4 942.9 L1522.2 937.3 L1530 942.9 L1527 933.8 L1534.8 928.2 L1525.2 928.2 Z" fill="#6b007b" stroke="#6b007b" stroke-width="1.6" stroke-linejoin="miter"/>
<line x1="1522.2" y1="636.4" x2="1522.2" y2="645.5" stroke="#6b007b" stroke-width="2.4"/>
<line x1="1496.4" y1="636.4" x2="1548" y2="636.4" stroke="#6b007b" stroke-width="2.4"/>
<line x1="1496.4" y1="645.5" x2="1548" y2="645.5" stroke="#6b007b" stroke-width="2.4"/>
<path d="M1522.2 627.5 L1535.8 654.7 L1508.6 654.7 Z" fill="#6b007b" stroke="#6b007b" stroke-width="1.4"/>
</g>
<rect x="1000.6" y="615.6" width="176" height="123" rx="7.5" fill="#fff" fill-opacity="0.8" stroke="#d2d2d2" stroke-width="1.8"/>
<path d="M1053.1 634 L1050.2 642.8 L1040.9 642.8 L1048.5 648.3 L1045.6 657.2 L1053.1 651.7 L1060.6 657.2 L1057.7 648.3 L1065.3 642.8 L1056 642.8 Z" fill="#808080" stroke="#808080" stroke-width="1.2"/>
<path d="M1053.1 688.5 L1067.1 716.5 L1039.1 716.5 Z" fill="#808080"/>
<text x="1121" y="660.4" font-size="38.5"><tspan font-style="oblique">α</tspan><tspan font-size="27" dy="5.7">1</tspan></text>
<text x="1121" y="715.8" font-size="38.5"><tspan font-style="oblique">α</tspan><tspan font-size="27" dy="5.7">2</tspan></text>
<clipPath id="clipD"><rect x="980.7" y="1186.6" width="568.0999999999999" height="443.8000000000002"/></clipPath>
<g clip-path="url(#clipD)">
<path d="M1248.2 1245.9 L1234.2 1252.2 L1216.3 1270.1 L1201.1 1293 L1190.9 1300.6 L1183.2 1313.4 L1170.5 1333.8 L1162.8 1344 L1152.6 1369.4 L1137.4 1410.2 L1129.7 1438.2 L1124.6 1451 L1117 1481.5 L1109.3 1517.2 L1101.7 1547.8 L1094 1578.3 L1089 1593.6 L1080 1632" fill="none" stroke="#aaa" stroke-width="3.2" stroke-dasharray="3 6.5" />
<path d="M1392.1 1632 L1383.2 1583.5 L1375.6 1542.7 L1366.7 1501.9 L1359 1471.3 L1351.4 1440.8 L1346.3 1425.5 L1341.2 1410.2 L1331 1379.6 L1319.5 1346.5 L1310.6 1328.7 L1303 1308.3 L1294.1 1287.9 L1287.7 1270.1 L1277.5 1257.3 L1264.8 1251 L1254.6 1247.1 L1248.2 1245.9" fill="none" stroke="#444" stroke-width="3.2" stroke-dasharray="3 6.5" />
<path d="M1249.8 1245.9 L1263.8 1252.2 L1281.7 1270.1 L1296.9 1293 L1307.1 1300.6 L1314.8 1313.4 L1327.5 1333.8 L1335.2 1344 L1345.4 1369.4 L1360.6 1410.2 L1368.3 1438.2 L1373.4 1451 L1381 1481.5 L1388.7 1517.2 L1396.3 1547.8 L1404 1578.3 L1409 1593.6 L1418 1632" fill="none" stroke="#aaa" stroke-width="2.4" stroke-linejoin="round"/>
<path d="M1105.9 1632 L1114.8 1583.5 L1122.4 1542.7 L1131.3 1501.9 L1139 1471.3 L1146.6 1440.8 L1151.7 1425.5 L1156.8 1410.2 L1167 1379.6 L1178.5 1346.5 L1187.4 1328.7 L1195 1308.3 L1203.9 1287.9 L1210.3 1270.1 L1220.5 1257.3 L1233.2 1251 L1243.4 1247.1 L1249.8 1245.9" fill="none" stroke="#555" stroke-width="2.6" stroke-linejoin="round"/>
</g>
<text x="1121.5" y="1255.5" font-size="35" text-anchor="middle" style="fill:#606060">Leading</text>
<text x="1109" y="1295.6" font-size="35" text-anchor="middle" style="fill:#606060">Edge</text>
<text x="1385" y="1255.5" font-size="35" text-anchor="middle" style="fill:#bcbcbc">Trailing</text>
<text x="1378.8" y="1295.6" font-size="35" text-anchor="middle" style="fill:#bcbcbc">Edge</text>
<clipPath id="clipE"><rect x="980.7" y="1777.8" width="568.0999999999999" height="443.29999999999995"/></clipPath>
<g clip-path="url(#clipE)">
<circle cx="1005.8" cy="1911.7" r="7.8" fill="#0000f0" fill-opacity="0.3" stroke="#0000f0" stroke-opacity="0.36" stroke-width="1.8"/>
<circle cx="1005.8" cy="1985.5" r="7.8" fill="#0000f0" fill-opacity="0.45" stroke="#0000f0" stroke-opacity="0.54" stroke-width="1.8"/>
<circle cx="1005.8" cy="2020.7" r="7.8" fill="#0000f0" fill-opacity="0.75" stroke="#0000f0" stroke-opacity="0.9" stroke-width="1.8"/>
<circle cx="1005.8" cy="2026.4" r="7.8" fill="#0000f0" fill-opacity="0.45" stroke="#0000f0" stroke-opacity="0.54" stroke-width="1.8"/>
<circle cx="1005.8" cy="2056.1" r="7.8" fill="#0000f0" fill-opacity="0.112" stroke="#0000f0" stroke-opacity="0.135" stroke-width="1.8"/>
<circle cx="1005.8" cy="2116.9" r="7.8" fill="#0000f0" fill-opacity="0.15" stroke="#0000f0" stroke-opacity="0.18" stroke-width="1.8"/>
<circle cx="1005.8" cy="2122.6" r="7.8" fill="#0000f0" fill-opacity="0.3" stroke="#0000f0" stroke-opacity="0.36" stroke-width="1.8"/>
<circle cx="1005.8" cy="2188" r="7.8" fill="#0000f0" fill-opacity="0.188" stroke="#0000f0" stroke-opacity="0.225" stroke-width="1.8"/>
<circle cx="1005.8" cy="2200.5" r="7.8" fill="#0000f0" fill-opacity="0.225" stroke="#0000f0" stroke-opacity="0.27" stroke-width="1.8"/>
<line x1="975.5" y1="2106.8" x2="1036.1" y2="2106.8" stroke="#0000f0" stroke-width="3.2"/>
<circle cx="1134.9" cy="1997.8" r="7.8" fill="#e8a22a" fill-opacity="0.375" stroke="#e8a22a" stroke-opacity="0.45" stroke-width="1.8"/>
<circle cx="1134.9" cy="2050.5" r="7.8" fill="#e8a22a" fill-opacity="0.225" stroke="#e8a22a" stroke-opacity="0.27" stroke-width="1.8"/>
<circle cx="1134.9" cy="2059.1" r="7.8" fill="#e8a22a" fill-opacity="0.525" stroke="#e8a22a" stroke-opacity="0.63" stroke-width="1.8"/>
<circle cx="1134.9" cy="2111" r="7.8" fill="#e8a22a" fill-opacity="0.675" stroke="#e8a22a" stroke-opacity="0.81" stroke-width="1.8"/>
<circle cx="1134.9" cy="2120.8" r="7.8" fill="#e8a22a" fill-opacity="0.038" stroke="#e8a22a" stroke-opacity="0.045" stroke-width="1.8"/>
<circle cx="1134.9" cy="2130.2" r="7.8" fill="#e8a22a" fill-opacity="0.375" stroke="#e8a22a" stroke-opacity="0.45" stroke-width="1.8"/>
<line x1="1104.6" y1="2098" x2="1165.2" y2="2098" stroke="#e8a22a" stroke-width="3.2"/>
<circle cx="1264" cy="1898.2" r="7.8" fill="#47801f" fill-opacity="0.75" stroke="#47801f" stroke-opacity="0.9" stroke-width="1.8"/>
<circle cx="1264" cy="1999.3" r="7.8" fill="#47801f" fill-opacity="0.562" stroke="#47801f" stroke-opacity="0.675" stroke-width="1.8"/>
<circle cx="1264" cy="2052.9" r="7.8" fill="#47801f" fill-opacity="0.338" stroke="#47801f" stroke-opacity="0.405" stroke-width="1.8"/>
<circle cx="1264" cy="2082.2" r="7.8" fill="#47801f" fill-opacity="0.413" stroke="#47801f" stroke-opacity="0.495" stroke-width="1.8"/>
<circle cx="1264" cy="2118.9" r="7.8" fill="#47801f" fill-opacity="0.165" stroke="#47801f" stroke-opacity="0.198" stroke-width="1.8"/>
<circle cx="1264" cy="2129.4" r="7.8" fill="#47801f" fill-opacity="0.3" stroke="#47801f" stroke-opacity="0.36" stroke-width="1.8"/>
<circle cx="1264" cy="2137.1" r="7.8" fill="#47801f" fill-opacity="0.375" stroke="#47801f" stroke-opacity="0.45" stroke-width="1.8"/>
<line x1="1233.7" y1="2081.2" x2="1294.3" y2="2081.2" stroke="#47801f" stroke-width="3.2"/>
<circle cx="1393.1" cy="1886.2" r="7.8" fill="#d90000" fill-opacity="0.3" stroke="#d90000" stroke-opacity="0.36" stroke-width="1.8"/>
<circle cx="1393.1" cy="1940.5" r="7.8" fill="#d90000" fill-opacity="0.413" stroke="#d90000" stroke-opacity="0.495" stroke-width="1.8"/>
<circle cx="1393.1" cy="1980.1" r="7.8" fill="#d90000" fill-opacity="0.525" stroke="#d90000" stroke-opacity="0.63" stroke-width="1.8"/>
<circle cx="1393.1" cy="1995.4" r="7.8" fill="#d90000" fill-opacity="0.75" stroke="#d90000" stroke-opacity="0.9" stroke-width="1.8"/>
<circle cx="1393.1" cy="2101.4" r="7.8" fill="#d90000" fill-opacity="0.225" stroke="#d90000" stroke-opacity="0.27" stroke-width="1.8"/>
<circle cx="1393.1" cy="2119.6" r="7.8" fill="#d90000" fill-opacity="0.262" stroke="#d90000" stroke-opacity="0.315" stroke-width="1.8"/>
<circle cx="1393.1" cy="2129.4" r="7.8" fill="#d90000" fill-opacity="0.225" stroke="#d90000" stroke-opacity="0.27" stroke-width="1.8"/>
<line x1="1362.8" y1="2039.4" x2="1423.4" y2="2039.4" stroke="#d90000" stroke-width="3.2"/>
<circle cx="1522.2" cy="1797.6" r="7.8" fill="#6b007b" fill-opacity="0.338" stroke="#6b007b" stroke-opacity="0.405" stroke-width="1.8"/>
<circle cx="1522.2" cy="1844.8" r="7.8" fill="#6b007b" fill-opacity="0.75" stroke="#6b007b" stroke-opacity="0.9" stroke-width="1.8"/>
<circle cx="1522.2" cy="1908.8" r="7.8" fill="#6b007b" fill-opacity="0.45" stroke="#6b007b" stroke-opacity="0.54" stroke-width="1.8"/>
<circle cx="1522.2" cy="1951.1" r="7.8" fill="#6b007b" fill-opacity="0.562" stroke="#6b007b" stroke-opacity="0.675" stroke-width="1.8"/>
<circle cx="1522.2" cy="1963.9" r="7.8" fill="#6b007b" fill-opacity="0.262" stroke="#6b007b" stroke-opacity="0.315" stroke-width="1.8"/>
<circle cx="1522.2" cy="2048" r="7.8" fill="#6b007b" fill-opacity="0.262" stroke="#6b007b" stroke-opacity="0.315" stroke-width="1.8"/>
<circle cx="1522.2" cy="2118.9" r="7.8" fill="#6b007b" fill-opacity="0.09" stroke="#6b007b" stroke-opacity="0.108" stroke-width="1.8"/>
<circle cx="1522.2" cy="2135.1" r="7.8" fill="#6b007b" fill-opacity="0.262" stroke="#6b007b" stroke-opacity="0.315" stroke-width="1.8"/>
<circle cx="1522.2" cy="2144.7" r="7.8" fill="#6b007b" fill-opacity="0.225" stroke="#6b007b" stroke-opacity="0.27" stroke-width="1.8"/>
<line x1="1491.9" y1="2005.2" x2="1552.5" y2="2005.2" stroke="#6b007b" stroke-width="3.2"/>
</g>
<path d="M127.6 6.0 V2221.0 M696.4 6.0 V2221.0" fill="none" stroke="#3c3c3c" stroke-width="2.5"/>
<path d="M126.35 6 H697.65 M126.35 449 H697.65 M126.35 892 H697.65 M126.35 1335 H697.65 M126.35 1778 H697.65 M126.35 2221 H697.65" fill="none" stroke="#3c3c3c" stroke-width="2.5"/>
<line x1="975.4" y1="444.8" x2="980.7" y2="444.8" stroke="#3c3c3c" stroke-width="1.6"/>
<line x1="975.4" y1="437.8" x2="980.7" y2="437.8" stroke="#3c3c3c" stroke-width="1.6"/>
<line x1="975.4" y1="431.6" x2="980.7" y2="431.6" stroke="#3c3c3c" stroke-width="1.6"/>
<line x1="975.4" y1="389.7" x2="980.7" y2="389.7" stroke="#3c3c3c" stroke-width="1.6"/>
<line x1="975.4" y1="368.4" x2="980.7" y2="368.4" stroke="#3c3c3c" stroke-width="1.6"/>
<line x1="975.4" y1="353.3" x2="980.7" y2="353.3" stroke="#3c3c3c" stroke-width="1.6"/>
<line x1="975.4" y1="341.5" x2="980.7" y2="341.5" stroke="#3c3c3c" stroke-width="1.6"/>
<line x1="975.4" y1="331.9" x2="980.7" y2="331.9" stroke="#3c3c3c" stroke-width="1.6"/>
<line x1="975.4" y1="323.8" x2="980.7" y2="323.8" stroke="#3c3c3c" stroke-width="1.6"/>
<line x1="975.4" y1="316.8" x2="980.7" y2="316.8" stroke="#3c3c3c" stroke-width="1.6"/>
<line x1="975.4" y1="310.6" x2="980.7" y2="310.6" stroke="#3c3c3c" stroke-width="1.6"/>
<line x1="975.4" y1="268.7" x2="980.7" y2="268.7" stroke="#3c3c3c" stroke-width="1.6"/>
<line x1="975.4" y1="247.4" x2="980.7" y2="247.4" stroke="#3c3c3c" stroke-width="1.6"/>
<line x1="975.4" y1="232.3" x2="980.7" y2="232.3" stroke="#3c3c3c" stroke-width="1.6"/>
<line x1="975.4" y1="220.5" x2="980.7" y2="220.5" stroke="#3c3c3c" stroke-width="1.6"/>
<line x1="975.4" y1="210.9" x2="980.7" y2="210.9" stroke="#3c3c3c" stroke-width="1.6"/>
<line x1="975.4" y1="202.8" x2="980.7" y2="202.8" stroke="#3c3c3c" stroke-width="1.6"/>
<line x1="975.4" y1="195.8" x2="980.7" y2="195.8" stroke="#3c3c3c" stroke-width="1.6"/>
<line x1="975.4" y1="189.6" x2="980.7" y2="189.6" stroke="#3c3c3c" stroke-width="1.6"/>
<line x1="975.4" y1="147.7" x2="980.7" y2="147.7" stroke="#3c3c3c" stroke-width="1.6"/>
<line x1="975.4" y1="126.4" x2="980.7" y2="126.4" stroke="#3c3c3c" stroke-width="1.6"/>
<line x1="975.4" y1="111.3" x2="980.7" y2="111.3" stroke="#3c3c3c" stroke-width="1.6"/>
<line x1="975.4" y1="99.5" x2="980.7" y2="99.5" stroke="#3c3c3c" stroke-width="1.6"/>
<line x1="975.4" y1="89.9" x2="980.7" y2="89.9" stroke="#3c3c3c" stroke-width="1.6"/>
<line x1="975.4" y1="81.8" x2="980.7" y2="81.8" stroke="#3c3c3c" stroke-width="1.6"/>
<line x1="975.4" y1="74.8" x2="980.7" y2="74.8" stroke="#3c3c3c" stroke-width="1.6"/>
<line x1="975.4" y1="68.6" x2="980.7" y2="68.6" stroke="#3c3c3c" stroke-width="1.6"/>
<line x1="975.4" y1="26.7" x2="980.7" y2="26.7" stroke="#3c3c3c" stroke-width="1.6"/>
<line x1="971.5" y1="63.1" x2="980.7" y2="63.1" stroke="#3c3c3c" stroke-width="2.2"/>
<line x1="971.5" y1="184.1" x2="980.7" y2="184.1" stroke="#3c3c3c" stroke-width="2.2"/>
<line x1="971.5" y1="305.1" x2="980.7" y2="305.1" stroke="#3c3c3c" stroke-width="2.2"/>
<line x1="971.5" y1="426.1" x2="980.7" y2="426.1" stroke="#3c3c3c" stroke-width="2.2"/>
<text x="964.7" y="73.4" font-size="26" text-anchor="end">10<tspan font-size="18.2" dy="-9.9">−1</tspan></text>
<text x="964.7" y="194.4" font-size="26" text-anchor="end">10<tspan font-size="18.2" dy="-9.9">−2</tspan></text>
<text x="964.7" y="315.4" font-size="26" text-anchor="end">10<tspan font-size="18.2" dy="-9.9">−3</tspan></text>
<text x="964.7" y="436.4" font-size="26" text-anchor="end">10<tspan font-size="18.2" dy="-9.9">−4</tspan></text>
<line x1="982.8" y1="448.7" x2="982.8" y2="454" stroke="#3c3c3c" stroke-width="1.6"/>
<line x1="994.9" y1="448.7" x2="994.9" y2="454" stroke="#3c3c3c" stroke-width="1.6"/>
<line x1="1077.3" y1="448.7" x2="1077.3" y2="454" stroke="#3c3c3c" stroke-width="1.6"/>
<line x1="1119.2" y1="448.7" x2="1119.2" y2="454" stroke="#3c3c3c" stroke-width="1.6"/>
<line x1="1148.8" y1="448.7" x2="1148.8" y2="454" stroke="#3c3c3c" stroke-width="1.6"/>
<line x1="1171.9" y1="448.7" x2="1171.9" y2="454" stroke="#3c3c3c" stroke-width="1.6"/>
<line x1="1190.7" y1="448.7" x2="1190.7" y2="454" stroke="#3c3c3c" stroke-width="1.6"/>
<line x1="1206.6" y1="448.7" x2="1206.6" y2="454" stroke="#3c3c3c" stroke-width="1.6"/>
<line x1="1220.4" y1="448.7" x2="1220.4" y2="454" stroke="#3c3c3c" stroke-width="1.6"/>
<line x1="1232.5" y1="448.7" x2="1232.5" y2="454" stroke="#3c3c3c" stroke-width="1.6"/>
<line x1="1314.9" y1="448.7" x2="1314.9" y2="454" stroke="#3c3c3c" stroke-width="1.6"/>
<line x1="1356.8" y1="448.7" x2="1356.8" y2="454" stroke="#3c3c3c" stroke-width="1.6"/>
<line x1="1386.4" y1="448.7" x2="1386.4" y2="454" stroke="#3c3c3c" stroke-width="1.6"/>
<line x1="1409.5" y1="448.7" x2="1409.5" y2="454" stroke="#3c3c3c" stroke-width="1.6"/>
<line x1="1428.3" y1="448.7" x2="1428.3" y2="454" stroke="#3c3c3c" stroke-width="1.6"/>
<line x1="1444.2" y1="448.7" x2="1444.2" y2="454" stroke="#3c3c3c" stroke-width="1.6"/>
<line x1="1458" y1="448.7" x2="1458" y2="454" stroke="#3c3c3c" stroke-width="1.6"/>
<line x1="1470.1" y1="448.7" x2="1470.1" y2="454" stroke="#3c3c3c" stroke-width="1.6"/>
<line x1="1005.8" y1="448.7" x2="1005.8" y2="457.9" stroke="#3c3c3c" stroke-width="2.2"/>
<line x1="1243.4" y1="448.7" x2="1243.4" y2="457.9" stroke="#3c3c3c" stroke-width="2.2"/>
<line x1="1481" y1="448.7" x2="1481" y2="457.9" stroke="#3c3c3c" stroke-width="2.2"/>
<text x="1005.8" y="486.3" font-size="26" text-anchor="middle">10<tspan font-size="18.2" dy="-10.9">−1</tspan></text>
<text x="1243.4" y="486.3" font-size="26" text-anchor="middle">10<tspan font-size="18.2" dy="-10.9">0</tspan></text>
<text x="1481" y="486.3" font-size="26" text-anchor="middle">10<tspan font-size="18.2" dy="-10.9">1</tspan></text>
<text x="1264" y="527" font-size="38.5" text-anchor="middle">Lag Time (s)</text>
<text transform="translate(887,227.5) rotate(-90)" font-size="38.5" letter-spacing="0.5" text-anchor="middle"><tspan font-style="oblique">FWHM</tspan><tspan font-size="26.9" dy="-16.2">2</tspan><tspan dy="16.2"> (</tspan><tspan font-style="oblique">μm</tspan><tspan font-size="26.9" dy="-16.2">2</tspan><tspan dy="16.2">)</tspan></text>
<rect x="980.7" y="6" width="568.1" height="442.7" fill="none" stroke="#3c3c3c" stroke-width="2.5" stroke-linejoin="miter"/>
<line x1="971.5" y1="1008" x2="980.7" y2="1008" stroke="#3c3c3c" stroke-width="2.2"/>
<line x1="971.5" y1="927" x2="980.7" y2="927" stroke="#3c3c3c" stroke-width="2.2"/>
<line x1="971.5" y1="846" x2="980.7" y2="846" stroke="#3c3c3c" stroke-width="2.2"/>
<line x1="971.5" y1="765" x2="980.7" y2="765" stroke="#3c3c3c" stroke-width="2.2"/>
<line x1="971.5" y1="684" x2="980.7" y2="684" stroke="#3c3c3c" stroke-width="2.2"/>
<line x1="971.5" y1="603" x2="980.7" y2="603" stroke="#3c3c3c" stroke-width="2.2"/>
<text x="963.9" y="1017.5" font-size="26" text-anchor="end">0.6</text>
<text x="963.9" y="936.5" font-size="26" text-anchor="end">0.8</text>
<text x="963.9" y="855.5" font-size="26" text-anchor="end">1.0</text>
<text x="963.9" y="774.5" font-size="26" text-anchor="end">1.2</text>
<text x="963.9" y="693.5" font-size="26" text-anchor="end">1.4</text>
<text x="963.9" y="612.5" font-size="26" text-anchor="end">1.6</text>
<line x1="1005.8" y1="1039" x2="1005.8" y2="1048.2" stroke="#3c3c3c" stroke-width="2.2"/>
<line x1="1134.9" y1="1039" x2="1134.9" y2="1048.2" stroke="#3c3c3c" stroke-width="2.2"/>
<line x1="1264" y1="1039" x2="1264" y2="1048.2" stroke="#3c3c3c" stroke-width="2.2"/>
<line x1="1393.1" y1="1039" x2="1393.1" y2="1048.2" stroke="#3c3c3c" stroke-width="2.2"/>
<line x1="1522.2" y1="1039" x2="1522.2" y2="1048.2" stroke="#3c3c3c" stroke-width="2.2"/>
<text x="1005.8" y="1076.6" font-size="26" text-anchor="middle">0</text>
<text x="1134.9" y="1076.6" font-size="26" text-anchor="middle">0.25</text>
<text x="1264" y="1076.6" font-size="26" text-anchor="middle">0.5</text>
<text x="1393.1" y="1076.6" font-size="26" text-anchor="middle">0.75</text>
<text x="1522.2" y="1076.6" font-size="26" text-anchor="middle">1</text>
<rect x="980.7" y="596.1" width="568.1" height="442.9" fill="none" stroke="#3c3c3c" stroke-width="2.5" stroke-linejoin="miter"/>
<line x1="975.4" y1="1540" x2="980.7" y2="1540" stroke="#3c3c3c" stroke-width="1.6"/>
<line x1="975.4" y1="1487.1" x2="980.7" y2="1487.1" stroke="#3c3c3c" stroke-width="1.6"/>
<line x1="975.4" y1="1449.5" x2="980.7" y2="1449.5" stroke="#3c3c3c" stroke-width="1.6"/>
<line x1="975.4" y1="1420.4" x2="980.7" y2="1420.4" stroke="#3c3c3c" stroke-width="1.6"/>
<line x1="975.4" y1="1396.6" x2="980.7" y2="1396.6" stroke="#3c3c3c" stroke-width="1.6"/>
<line x1="975.4" y1="1376.5" x2="980.7" y2="1376.5" stroke="#3c3c3c" stroke-width="1.6"/>
<line x1="975.4" y1="1359.1" x2="980.7" y2="1359.1" stroke="#3c3c3c" stroke-width="1.6"/>
<line x1="975.4" y1="1343.7" x2="980.7" y2="1343.7" stroke="#3c3c3c" stroke-width="1.6"/>
<line x1="975.4" y1="1239.6" x2="980.7" y2="1239.6" stroke="#3c3c3c" stroke-width="1.6"/>
<line x1="975.4" y1="1186.7" x2="980.7" y2="1186.7" stroke="#3c3c3c" stroke-width="1.6"/>
<line x1="971.5" y1="1330" x2="980.7" y2="1330" stroke="#3c3c3c" stroke-width="2.2"/>
<line x1="971.5" y1="1630.4" x2="980.7" y2="1630.4" stroke="#3c3c3c" stroke-width="2.2"/>
<text x="964.7" y="1340.3" font-size="26" text-anchor="end">10<tspan font-size="18.2" dy="-9.9">−2</tspan></text>
<text x="964.7" y="1640.7" font-size="26" text-anchor="end">10<tspan font-size="18.2" dy="-9.9">−3</tspan></text>
<line x1="980" y1="1630.4" x2="980" y2="1639.6" stroke="#3c3c3c" stroke-width="2.2"/>
<line x1="1122.2" y1="1630.4" x2="1122.2" y2="1639.6" stroke="#3c3c3c" stroke-width="2.2"/>
<line x1="1264.4" y1="1630.4" x2="1264.4" y2="1639.6" stroke="#3c3c3c" stroke-width="2.2"/>
<line x1="1406.6" y1="1630.4" x2="1406.6" y2="1639.6" stroke="#3c3c3c" stroke-width="2.2"/>
<line x1="1548.8" y1="1630.4" x2="1548.8" y2="1639.6" stroke="#3c3c3c" stroke-width="2.2"/>
<text x="980" y="1668" font-size="26" text-anchor="middle">−0.2</text>
<text x="1122.2" y="1668" font-size="26" text-anchor="middle">−0.1</text>
<text x="1264.4" y="1668" font-size="26" text-anchor="middle">0.0</text>
<text x="1406.6" y="1668" font-size="26" text-anchor="middle">0.1</text>
<text x="1548.8" y="1668" font-size="26" text-anchor="middle">0.2</text>
<rect x="980.7" y="1186.6" width="568.1" height="443.8" fill="none" stroke="#3c3c3c" stroke-width="2.5" stroke-linejoin="miter"/>
<line x1="971.5" y1="2172.5" x2="980.7" y2="2172.5" stroke="#3c3c3c" stroke-width="2.2"/>
<line x1="971.5" y1="2111" x2="980.7" y2="2111" stroke="#3c3c3c" stroke-width="2.2"/>
<line x1="971.5" y1="2049.5" x2="980.7" y2="2049.5" stroke="#3c3c3c" stroke-width="2.2"/>
<line x1="971.5" y1="1988" x2="980.7" y2="1988" stroke="#3c3c3c" stroke-width="2.2"/>
<line x1="971.5" y1="1926.5" x2="980.7" y2="1926.5" stroke="#3c3c3c" stroke-width="2.2"/>
<line x1="971.5" y1="1865" x2="980.7" y2="1865" stroke="#3c3c3c" stroke-width="2.2"/>
<line x1="971.5" y1="1803.5" x2="980.7" y2="1803.5" stroke="#3c3c3c" stroke-width="2.2"/>
<text x="963.7" y="2182" font-size="26" text-anchor="end">−0.025</text>
<text x="963.7" y="2120.5" font-size="26" text-anchor="end">0.000</text>
<text x="963.7" y="2059" font-size="26" text-anchor="end">0.025</text>
<text x="963.7" y="1997.5" font-size="26" text-anchor="end">0.050</text>
<text x="963.7" y="1936" font-size="26" text-anchor="end">0.075</text>
<text x="963.7" y="1874.5" font-size="26" text-anchor="end">0.100</text>
<text x="963.7" y="1813" font-size="26" text-anchor="end">0.125</text>
<line x1="1005.8" y1="2221.1" x2="1005.8" y2="2230.3" stroke="#3c3c3c" stroke-width="2.2"/>
<line x1="1134.9" y1="2221.1" x2="1134.9" y2="2230.3" stroke="#3c3c3c" stroke-width="2.2"/>
<line x1="1264" y1="2221.1" x2="1264" y2="2230.3" stroke="#3c3c3c" stroke-width="2.2"/>
<line x1="1393.1" y1="2221.1" x2="1393.1" y2="2230.3" stroke="#3c3c3c" stroke-width="2.2"/>
<line x1="1522.2" y1="2221.1" x2="1522.2" y2="2230.3" stroke="#3c3c3c" stroke-width="2.2"/>
<text x="1005.8" y="2258.7" font-size="26" text-anchor="middle">0</text>
<text x="1134.9" y="2258.7" font-size="26" text-anchor="middle">0.25</text>
<text x="1264" y="2258.7" font-size="26" text-anchor="middle">0.5</text>
<text x="1393.1" y="2258.7" font-size="26" text-anchor="middle">0.75</text>
<text x="1522.2" y="2258.7" font-size="26" text-anchor="middle">1</text>
<rect x="980.7" y="1777.8" width="568.1" height="443.3" fill="none" stroke="#3c3c3c" stroke-width="2.5" stroke-linejoin="miter"/>
<text transform="translate(905,817.4) rotate(-90)" font-size="38.5" text-anchor="middle"><tspan font-style="oblique">α</tspan></text>
<text x="1266" y="1121" font-size="38.5" text-anchor="middle"><tspan font-style="oblique">ϕ</tspan><tspan font-style="oblique" font-size="26.9" dy="6.3">A</tspan></text>
<text x="1266" y="2304" font-size="38.5" text-anchor="middle"><tspan font-style="oblique">ϕ</tspan><tspan font-style="oblique" font-size="26.9" dy="6.3">A</tspan></text>
<text transform="translate(888,1406.5) rotate(-90)" x="0" y="0" font-size="37" letter-spacing="0.9" text-anchor="middle">G(Δ<tspan font-style="oblique">d</tspan>, Δ<tspan font-style="oblique">t</tspan>)</text>
<text x="1264.8" y="1713.5" font-size="37.5" text-anchor="middle">Δ<tspan font-style="oblique">d</tspan> (<tspan font-style="oblique">μm</tspan>)</text>
<text transform="translate(849.5,2001.6) rotate(-90)" font-size="38.5" text-anchor="middle">Δ<tspan font-size="26.9" dy="6.8">∓<tspan font-style="oblique">HW</tspan></tspan></text>
<text x="7" y="39.5" font-size="41" font-weight="bold" font-family="'Liberation Sans', Arial, sans-serif">A</text>
<text x="837" y="38.9" font-size="41" font-weight="bold" font-family="'Liberation Sans', Arial, sans-serif">B</text>
<text x="837" y="589.5" font-size="41" font-weight="bold" font-family="'Liberation Sans', Arial, sans-serif">C</text>
<text x="837" y="1186.6" font-size="41" font-weight="bold" font-family="'Liberation Sans', Arial, sans-serif">D</text>
<text x="837" y="1784.4" font-size="41" font-weight="bold" font-family="'Liberation Sans', Arial, sans-serif">E</text>
</svg>
</body></html>
